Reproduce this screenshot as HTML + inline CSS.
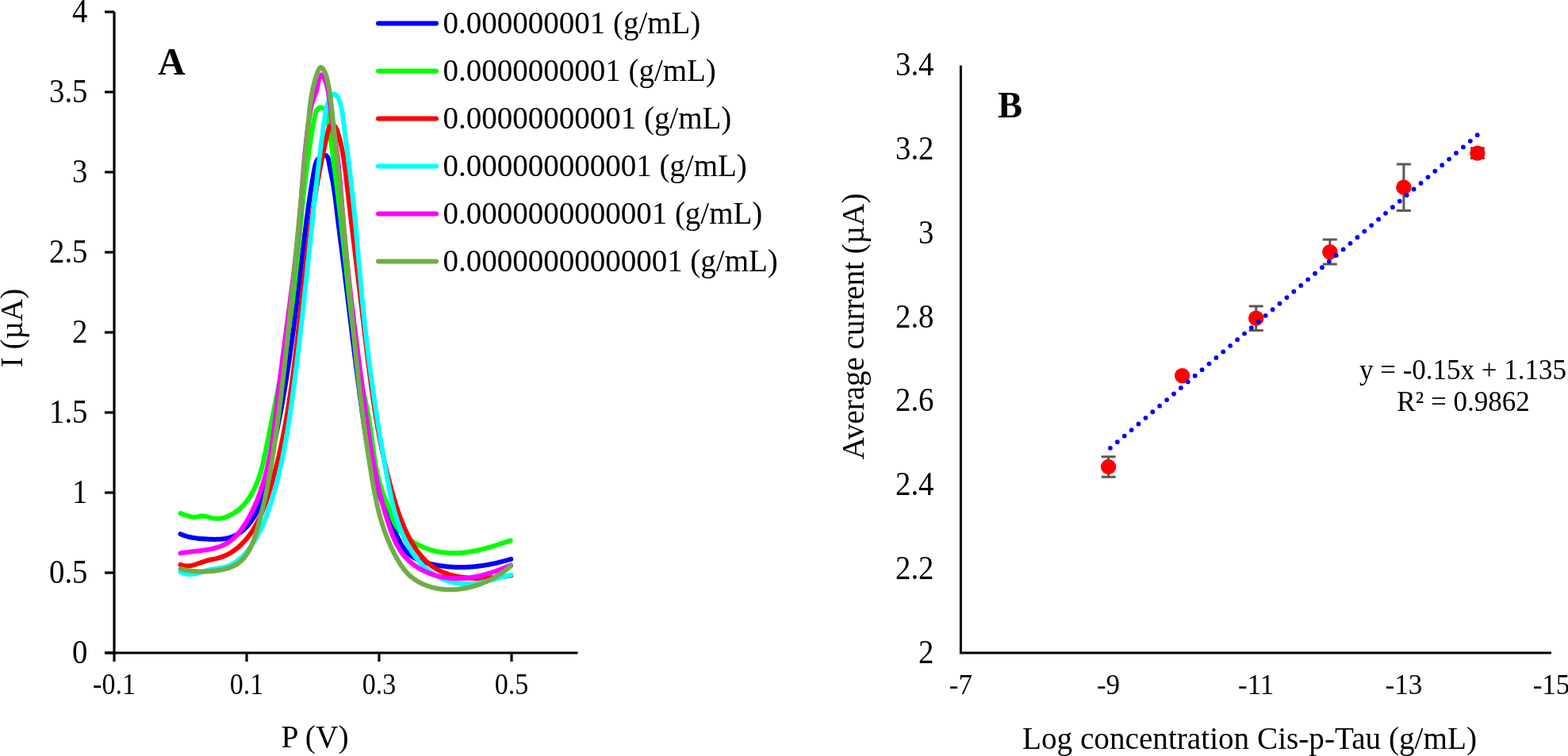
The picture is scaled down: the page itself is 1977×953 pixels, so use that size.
<!DOCTYPE html>
<html><head><meta charset="utf-8"><title>Chart</title>
<style>html,body{margin:0;padding:0;background:#fff;overflow:hidden;} svg{display:block;}</style>
</head><body>
<svg width="1977" height="953" viewBox="0 0 1977 953">
<rect width="1977" height="953" fill="#fff"/>
<g stroke="#000" stroke-width="3.2" fill="none">
<path d="M144,15 V834"/>
<path d="M132,823 H728.5"/>
<path d="M132,15.0 H144"/>
<path d="M132,116.0 H144"/>
<path d="M132,217.0 H144"/>
<path d="M132,318.0 H144"/>
<path d="M132,419.0 H144"/>
<path d="M132,520.0 H144"/>
<path d="M132,621.0 H144"/>
<path d="M132,722.0 H144"/>
<path d="M132,823.0 H144"/>
<path d="M311.0,823 V834"/>
<path d="M478.0,823 V834"/>
<path d="M645.0,823 V834"/>
</g>
<g font-family="'Liberation Serif', 'Times New Roman', Times, serif" fill="#000">
<text transform="translate(110.50,28.00) scale(1.0,1.07)" font-size="38.8" text-anchor="end">4</text>
<text transform="translate(110.50,129.00) scale(1.0,1.07)" font-size="38.8" text-anchor="end">3.5</text>
<text transform="translate(110.50,230.00) scale(1.0,1.07)" font-size="38.8" text-anchor="end">3</text>
<text transform="translate(110.50,331.00) scale(1.0,1.07)" font-size="38.8" text-anchor="end">2.5</text>
<text transform="translate(110.50,432.00) scale(1.0,1.07)" font-size="38.8" text-anchor="end">2</text>
<text transform="translate(110.50,533.00) scale(1.0,1.07)" font-size="38.8" text-anchor="end">1.5</text>
<text transform="translate(110.50,634.00) scale(1.0,1.07)" font-size="38.8" text-anchor="end">1</text>
<text transform="translate(110.50,735.00) scale(1.0,1.07)" font-size="38.8" text-anchor="end">0.5</text>
<text transform="translate(110.50,836.00) scale(1.0,1.07)" font-size="38.8" text-anchor="end">0</text>
<text transform="translate(144.00,875.00) scale(1.0,1.09)" font-size="34" text-anchor="middle">-0.1</text>
<text transform="translate(311.00,875.00) scale(1.0,1.09)" font-size="34" text-anchor="middle">0.1</text>
<text transform="translate(478.00,875.00) scale(1.0,1.09)" font-size="34" text-anchor="middle">0.3</text>
<text transform="translate(645.00,875.00) scale(1.0,1.09)" font-size="34" text-anchor="middle">0.5</text>
<text transform="translate(397.00,942.00)" font-size="39.5" text-anchor="middle">P (V)</text>
<text transform="translate(28.00,413.50) rotate(-90)" font-size="39" text-anchor="middle">I (µA)</text>
<text transform="translate(199.00,94.00)" font-size="48" font-weight="bold">A</text>
</g>
<path d="M227.5,673.1 L229.4,674.0 L231.3,674.7 L233.2,675.4 L235.2,676.0 L237.1,676.6 L239.1,677.0 L241.1,677.5 L243.1,677.8 L245.1,678.1 L247.1,678.4 L249.1,678.7 L251.1,678.9 L253.1,679.1 L255.2,679.2 L257.2,679.3 L259.3,679.5 L261.3,679.6 L263.4,679.7 L265.4,679.8 L267.5,679.8 L269.6,679.9 L271.6,679.9 L273.7,679.8 L275.7,679.8 L277.7,679.7 L279.7,679.5 L281.7,679.3 L283.7,679.0 L285.7,678.6 L287.6,678.2 L289.5,677.7 L291.4,677.1 L293.2,676.4 L295.1,675.7 L296.9,674.8 L298.6,673.9 L300.3,672.9 L302.0,671.8 L303.7,670.6 L305.3,669.3 L306.9,668.0 L308.4,666.6 L309.9,665.1 L311.3,663.6 L312.7,662.1 L314.1,660.5 L315.4,658.8 L316.7,657.1 L317.9,655.4 L319.1,653.6 L320.2,651.9 L321.3,650.0 L322.4,648.2 L323.3,646.4 L324.3,644.5 L325.1,642.6 L326.0,640.8 L326.7,638.9 L327.5,637.0 L328.2,635.0 L328.9,633.1 L329.5,631.2 L330.1,629.3 L330.6,627.3 L331.2,625.4 L331.7,623.4 L332.2,621.4 L332.6,619.5 L333.1,617.5 L333.5,615.5 L333.9,613.5 L334.4,611.5 L334.8,609.5 L335.2,607.6 L335.5,605.6 L335.9,603.6 L336.3,601.6 L336.7,599.6 L337.1,597.6 L337.6,595.6 L338.0,593.6 L338.4,591.6 L338.8,589.6 L339.2,587.6 L339.7,585.6 L340.1,583.6 L340.6,581.6 L341.0,579.6 L341.4,577.6 L341.9,575.6 L342.3,573.6 L342.8,571.6 L343.2,569.6 L343.7,567.6 L344.1,565.6 L344.6,563.6 L345.0,561.6 L345.5,559.6 L345.9,557.6 L346.4,555.6 L346.8,553.6 L347.2,551.6 L347.7,549.6 L348.1,547.6 L348.5,545.6 L349.0,543.6 L349.4,541.5 L349.8,539.5 L350.2,537.5 L350.6,535.5 L351.0,533.5 L351.4,531.5 L351.8,529.5 L352.2,527.5 L352.6,525.5 L353.0,523.4 L353.4,521.4 L353.8,519.4 L354.1,517.4 L354.5,515.4 L354.9,513.4 L355.2,511.4 L355.6,509.3 L356.0,507.3 L356.3,505.3 L356.7,503.3 L357.0,501.3 L357.4,499.2 L357.7,497.2 L358.1,495.2 L358.4,493.2 L358.8,491.2 L359.1,489.1 L359.5,487.1 L359.8,485.1 L360.1,483.1 L360.4,481.1 L360.8,479.0 L361.1,477.0 L361.4,475.0 L361.7,473.0 L362.0,470.9 L362.4,468.9 L362.7,466.9 L363.0,464.9 L363.3,462.8 L363.6,460.8 L363.9,458.8 L364.2,456.8 L364.5,454.7 L364.8,452.7 L365.1,450.7 L365.4,448.6 L365.7,446.6 L365.9,444.6 L366.2,442.6 L366.5,440.5 L366.8,438.5 L367.1,436.5 L367.4,434.4 L367.6,432.4 L367.9,430.4 L368.2,428.4 L368.4,426.3 L368.7,424.3 L369.0,422.3 L369.3,420.2 L369.5,418.2 L369.8,416.2 L370.1,414.1 L370.3,412.1 L370.6,410.1 L370.8,408.1 L371.1,406.0 L371.3,404.0 L371.6,402.0 L371.9,399.9 L372.1,397.9 L372.4,395.9 L372.6,393.8 L372.9,391.8 L373.1,389.8 L373.4,387.7 L373.6,385.7 L373.9,383.7 L374.1,381.6 L374.3,379.6 L374.6,377.6 L374.8,375.6 L375.1,373.5 L375.3,371.5 L375.6,369.5 L375.8,367.4 L376.0,365.4 L376.3,363.4 L376.5,361.3 L376.8,359.3 L377.0,357.3 L377.2,355.3 L377.5,353.2 L377.7,351.2 L378.0,349.2 L378.2,347.1 L378.4,345.1 L378.7,343.1 L378.9,341.0 L379.1,339.0 L379.4,337.0 L379.6,335.0 L379.9,332.9 L380.1,330.9 L380.3,328.9 L380.6,326.9 L380.8,324.8 L381.0,322.8 L381.3,320.8 L381.5,318.8 L381.7,316.7 L382.0,314.7 L382.2,312.7 L382.5,310.7 L382.7,308.6 L382.9,306.6 L383.2,304.6 L383.4,302.6 L383.7,300.5 L383.9,298.5 L384.2,296.5 L384.4,294.5 L384.7,292.4 L384.9,290.4 L385.2,288.4 L385.4,286.4 L385.7,284.3 L385.9,282.3 L386.2,280.3 L386.5,278.2 L386.7,276.2 L387.0,274.2 L387.3,272.2 L387.5,270.1 L387.8,268.1 L388.1,266.1 L388.4,264.0 L388.6,262.0 L388.9,260.0 L389.2,258.0 L389.5,255.9 L389.8,253.9 L390.1,251.9 L390.4,249.8 L390.7,247.8 L391.0,245.7 L391.3,243.7 L391.6,241.7 L392.0,239.6 L392.3,237.6 L392.6,235.6 L392.9,233.5 L393.3,231.5 L393.6,229.4 L393.9,227.4 L394.3,225.3 L394.6,223.3 L395.0,221.2 L395.4,219.2 L395.7,217.1 L396.1,215.1 L396.5,213.0 L396.9,211.0 L397.3,209.0 L397.8,207.0 L398.5,205.1 L399.2,203.3 L400.2,201.6 L401.4,200.0 L402.8,198.6 L404.5,197.3 L406.4,196.3 L408.5,195.7 L410.3,195.7 L411.7,196.4 L412.8,197.7 L413.6,199.5 L414.2,201.6 L414.7,203.9 L414.9,205.1 L415.1,206.3 L415.3,207.5 L415.7,209.8 L416.1,212.0 L416.5,214.0 L416.9,216.0 L417.4,218.0 L417.8,219.9 L418.2,221.8 L418.6,223.8 L419.0,225.7 L419.4,227.7 L419.7,229.7 L420.1,231.7 L420.4,233.6 L420.7,235.6 L421.0,237.6 L421.3,239.7 L421.6,241.7 L421.9,243.7 L422.2,245.7 L422.5,247.7 L422.8,249.8 L423.0,251.8 L423.3,253.9 L423.5,255.9 L423.8,257.9 L424.0,260.0 L424.3,262.0 L424.5,264.1 L424.8,266.1 L425.0,268.2 L425.3,270.2 L425.5,272.3 L425.7,274.3 L426.0,276.4 L426.2,278.4 L426.5,280.5 L426.7,282.5 L427.0,284.5 L427.2,286.6 L427.5,288.6 L427.8,290.6 L428.0,292.7 L428.3,294.7 L428.5,296.7 L428.8,298.8 L429.1,300.8 L429.3,302.8 L429.6,304.9 L429.8,306.9 L430.1,308.9 L430.4,310.9 L430.6,313.0 L430.9,315.0 L431.1,317.0 L431.4,319.1 L431.7,321.1 L431.9,323.1 L432.2,325.1 L432.4,327.2 L432.7,329.2 L433.0,331.2 L433.2,333.2 L433.5,335.3 L433.7,337.3 L434.0,339.3 L434.2,341.4 L434.5,343.4 L434.7,345.4 L435.0,347.4 L435.2,349.5 L435.5,351.5 L435.7,353.5 L436.0,355.6 L436.2,357.6 L436.5,359.6 L436.7,361.6 L437.0,363.7 L437.2,365.7 L437.5,367.7 L437.7,369.8 L438.0,371.8 L438.2,373.8 L438.5,375.9 L438.7,377.9 L439.0,379.9 L439.2,382.0 L439.5,384.0 L439.7,386.0 L439.9,388.0 L440.2,390.1 L440.4,392.1 L440.7,394.1 L440.9,396.2 L441.2,398.2 L441.4,400.2 L441.7,402.3 L441.9,404.3 L442.2,406.3 L442.4,408.4 L442.7,410.4 L442.9,412.4 L443.1,414.5 L443.4,416.5 L443.6,418.5 L443.9,420.5 L444.1,422.6 L444.4,424.6 L444.6,426.6 L444.9,428.7 L445.1,430.7 L445.4,432.7 L445.6,434.8 L445.9,436.8 L446.1,438.8 L446.4,440.9 L446.6,442.9 L446.9,444.9 L447.1,447.0 L447.4,449.0 L447.6,451.0 L447.9,453.1 L448.2,455.1 L448.4,457.1 L448.7,459.1 L448.9,461.2 L449.2,463.2 L449.4,465.2 L449.7,467.3 L450.0,469.3 L450.2,471.3 L450.5,473.4 L450.7,475.4 L451.0,477.4 L451.3,479.5 L451.5,481.5 L451.8,483.5 L452.1,485.6 L452.3,487.6 L452.6,489.6 L452.9,491.6 L453.1,493.7 L453.4,495.7 L453.7,497.7 L453.9,499.8 L454.2,501.8 L454.5,503.8 L454.8,505.9 L455.0,507.9 L455.3,509.9 L455.6,511.9 L455.9,514.0 L456.1,516.0 L456.4,518.0 L456.7,520.1 L457.0,522.1 L457.3,524.1 L457.6,526.1 L457.9,528.2 L458.2,530.2 L458.4,532.2 L458.7,534.2 L459.0,536.3 L459.3,538.3 L459.7,540.3 L460.0,542.3 L460.3,544.4 L460.6,546.4 L460.9,548.4 L461.2,550.4 L461.6,552.4 L461.9,554.5 L462.3,556.5 L462.6,558.5 L463.0,560.5 L463.3,562.5 L463.7,564.5 L464.0,566.5 L464.4,568.6 L464.8,570.6 L465.2,572.6 L465.6,574.6 L466.0,576.6 L466.4,578.6 L466.8,580.6 L467.3,582.6 L467.7,584.5 L468.2,586.5 L468.6,588.5 L469.1,590.5 L469.6,592.5 L470.0,594.5 L470.5,596.4 L471.0,598.4 L471.6,600.4 L472.1,602.4 L472.6,604.3 L473.2,606.3 L473.7,608.3 L474.3,610.2 L474.9,612.2 L475.5,614.1 L476.1,616.1 L476.7,618.0 L477.3,620.0 L478.0,621.9 L478.6,623.8 L479.3,625.8 L480.0,627.7 L480.7,629.6 L481.4,631.6 L482.1,633.5 L482.9,635.4 L483.6,637.3 L484.4,639.2 L485.1,641.1 L485.9,643.0 L486.7,644.9 L487.5,646.8 L488.3,648.7 L489.1,650.6 L489.9,652.5 L490.8,654.4 L491.6,656.3 L492.4,658.1 L493.3,660.0 L494.1,661.9 L495.0,663.8 L495.9,665.6 L496.7,667.5 L497.6,669.4 L498.5,671.2 L499.4,673.1 L500.2,675.0 L501.1,676.8 L502.0,678.7 L502.9,680.5 L503.9,682.3 L504.8,684.1 L505.8,685.9 L506.8,687.6 L507.9,689.3 L509.0,690.9 L510.2,692.5 L511.4,694.0 L512.7,695.5 L514.0,696.9 L515.4,698.3 L516.9,699.5 L518.5,700.7 L520.1,701.8 L521.8,702.9 L523.6,703.9 L525.4,704.8 L527.3,705.7 L529.2,706.5 L531.1,707.3 L533.1,708.0 L535.1,708.6 L537.1,709.3 L539.2,709.8 L541.3,710.4 L543.3,710.9 L545.4,711.3 L547.5,711.8 L549.6,712.2 L551.7,712.5 L553.7,712.9 L555.8,713.2 L557.9,713.5 L559.9,713.7 L562.0,714.0 L564.0,714.2 L566.1,714.4 L568.1,714.6 L570.1,714.7 L572.1,714.8 L574.2,714.9 L576.2,715.0 L578.2,715.0 L580.2,715.0 L582.2,715.0 L584.2,715.0 L586.2,715.0 L588.2,714.9 L590.2,714.8 L592.2,714.7 L594.2,714.5 L596.2,714.4 L598.2,714.2 L600.2,714.0 L602.2,713.8 L604.1,713.5 L606.1,713.3 L608.1,713.0 L610.1,712.7 L612.1,712.4 L614.1,712.0 L616.1,711.7 L618.1,711.3 L620.1,710.9 L622.1,710.5 L624.1,710.1 L626.1,709.6 L628.1,709.2 L630.1,708.7 L632.1,708.2 L634.1,707.7 L636.2,707.1 L638.2,706.6 L640.2,706.0 L642.3,705.4 L644.3,704.8 L644.3,704.8" fill="none" stroke="#0000FF" stroke-width="6" stroke-linecap="round" stroke-linejoin="round"/>
<path d="M227.5,647.1 L229.5,647.8 L231.6,648.6 L233.7,649.3 L235.8,650.0 L237.9,650.7 L240.0,651.2 L242.0,651.7 L244.1,651.9 L246.1,651.9 L248.1,651.7 L250.0,651.3 L252.0,650.9 L253.9,650.6 L255.9,650.6 L257.8,650.8 L259.8,651.1 L261.9,651.6 L263.9,652.1 L266.0,652.6 L268.1,653.1 L270.2,653.5 L272.3,653.7 L274.5,653.8 L276.7,653.7 L278.9,653.4 L281.1,652.9 L283.3,652.3 L285.5,651.5 L287.6,650.7 L289.6,649.7 L291.6,648.7 L293.6,647.6 L295.5,646.5 L297.3,645.3 L299.0,644.0 L300.7,642.7 L302.4,641.3 L303.9,639.8 L305.5,638.4 L306.9,636.8 L308.4,635.2 L309.7,633.6 L311.1,631.9 L312.3,630.2 L313.6,628.5 L314.8,626.7 L315.9,624.9 L317.0,623.0 L318.0,621.1 L319.1,619.2 L320.0,617.3 L321.0,615.4 L321.9,613.4 L322.7,611.4 L323.6,609.5 L324.4,607.4 L325.1,605.4 L325.9,603.4 L326.6,601.4 L327.2,599.3 L327.9,597.3 L328.5,595.2 L329.1,593.1 L329.7,591.0 L330.3,588.9 L330.8,586.8 L331.3,584.7 L331.8,582.6 L332.3,580.5 L332.8,578.4 L333.3,576.2 L333.7,574.1 L334.2,572.0 L334.6,569.8 L335.1,567.7 L335.5,565.5 L335.9,563.4 L336.4,561.3 L336.8,559.1 L337.2,557.0 L337.6,554.8 L338.1,552.7 L338.5,550.6 L338.9,548.4 L339.4,546.3 L339.8,544.2 L340.2,542.0 L340.6,539.9 L341.1,537.8 L341.5,535.6 L341.9,533.5 L342.4,531.4 L342.8,529.3 L343.2,527.1 L343.7,525.0 L344.1,522.9 L344.5,520.8 L344.9,518.6 L345.4,516.5 L345.8,514.4 L346.2,512.3 L346.6,510.2 L347.1,508.0 L347.5,505.9 L347.9,503.8 L348.3,501.7 L348.7,499.5 L349.2,497.4 L349.6,495.3 L350.0,493.2 L350.4,491.1 L350.8,489.0 L351.2,486.8 L351.6,484.7 L352.1,482.6 L352.5,480.5 L352.9,478.4 L353.3,476.2 L353.7,474.1 L354.1,472.0 L354.5,469.9 L354.9,467.8 L355.3,465.6 L355.7,463.5 L356.1,461.4 L356.4,459.3 L356.8,457.2 L357.2,455.0 L357.6,452.9 L358.0,450.8 L358.3,448.7 L358.7,446.5 L359.1,444.4 L359.5,442.3 L359.8,440.2 L360.2,438.0 L360.5,435.9 L360.9,433.8 L361.3,431.6 L361.6,429.5 L362.0,427.4 L362.3,425.3 L362.6,423.1 L363.0,421.0 L363.3,418.8 L363.7,416.7 L364.0,414.6 L364.3,412.4 L364.6,410.3 L364.9,408.2 L365.3,406.0 L365.6,403.9 L365.9,401.7 L366.2,399.6 L366.5,397.4 L366.8,395.3 L367.1,393.1 L367.4,391.0 L367.6,388.8 L367.9,386.7 L368.2,384.5 L368.5,382.4 L368.7,380.2 L369.0,378.1 L369.3,375.9 L369.5,373.7 L369.8,371.6 L370.1,369.4 L370.3,367.3 L370.6,365.1 L370.8,362.9 L371.1,360.8 L371.3,358.6 L371.5,356.4 L371.8,354.3 L372.0,352.1 L372.2,349.9 L372.5,347.8 L372.7,345.6 L372.9,343.4 L373.2,341.3 L373.4,339.1 L373.6,336.9 L373.8,334.8 L374.1,332.6 L374.3,330.4 L374.5,328.3 L374.7,326.1 L374.9,323.9 L375.1,321.7 L375.4,319.6 L375.6,317.4 L375.8,315.2 L376.0,313.1 L376.2,310.9 L376.4,308.7 L376.6,306.6 L376.8,304.4 L377.0,302.2 L377.3,300.1 L377.5,297.9 L377.7,295.7 L377.9,293.6 L378.1,291.4 L378.3,289.2 L378.5,287.1 L378.7,284.9 L378.9,282.7 L379.1,280.6 L379.4,278.4 L379.6,276.2 L379.8,274.1 L380.0,271.9 L380.2,269.8 L380.4,267.6 L380.6,265.5 L380.9,263.3 L381.1,261.2 L381.3,259.0 L381.5,256.8 L381.7,254.7 L382.0,252.5 L382.2,250.4 L382.4,248.3 L382.6,246.1 L382.9,244.0 L383.1,241.8 L383.3,239.7 L383.6,237.5 L383.8,235.4 L384.1,233.3 L384.3,231.1 L384.6,229.0 L384.8,226.9 L385.1,224.7 L385.3,222.6 L385.6,220.5 L385.8,218.4 L386.1,216.2 L386.4,214.1 L386.6,212.0 L386.9,209.9 L387.2,207.8 L387.5,205.7 L387.7,203.5 L388.0,201.4 L388.3,199.3 L388.6,197.2 L388.9,195.1 L389.2,193.0 L389.5,190.9 L389.8,188.8 L390.1,186.7 L390.5,184.7 L390.8,182.6 L391.1,180.5 L391.4,178.4 L391.8,176.3 L392.1,174.2 L392.5,172.0 L392.8,169.9 L393.2,167.7 L393.5,165.6 L393.9,163.3 L394.3,161.1 L394.7,158.8 L395.1,156.5 L395.5,154.2 L395.9,151.8 L396.1,150.6 L396.3,149.4 L396.5,148.2 L396.8,147.0 L397.0,145.8 L397.3,144.6 L397.6,143.4 L398.3,141.2 L399.3,139.2 L400.5,137.5 L402.0,136.2 L403.8,135.5 L405.7,135.7 L407.6,136.6 L409.3,138.0 L410.7,139.7 L411.6,141.6 L412.3,143.6 L412.8,145.7 L413.2,147.9 L413.5,150.2 L413.8,152.4 L414.1,154.6 L414.4,156.8 L414.7,159.0 L415.0,161.2 L415.3,163.4 L415.6,165.6 L415.8,167.8 L416.1,170.0 L416.4,172.2 L416.7,174.4 L417.0,176.5 L417.3,178.7 L417.6,180.9 L417.9,183.1 L418.2,185.3 L418.5,187.4 L418.8,189.6 L419.0,191.8 L419.3,193.9 L419.6,196.1 L419.9,198.3 L420.2,200.4 L420.5,202.6 L420.7,204.7 L421.0,206.9 L421.3,209.0 L421.6,211.2 L421.9,213.4 L422.1,215.5 L422.4,217.6 L422.7,219.8 L423.0,221.9 L423.2,224.1 L423.5,226.2 L423.8,228.4 L424.0,230.5 L424.3,232.7 L424.6,234.8 L424.8,236.9 L425.1,239.1 L425.4,241.2 L425.6,243.4 L425.9,245.5 L426.2,247.6 L426.4,249.8 L426.7,251.9 L426.9,254.0 L427.2,256.2 L427.5,258.3 L427.7,260.4 L428.0,262.6 L428.2,264.7 L428.5,266.8 L428.7,269.0 L429.0,271.1 L429.2,273.3 L429.5,275.4 L429.7,277.5 L430.0,279.7 L430.2,281.8 L430.5,283.9 L430.7,286.1 L431.0,288.2 L431.2,290.4 L431.4,292.5 L431.7,294.6 L431.9,296.8 L432.2,298.9 L432.4,301.1 L432.6,303.2 L432.9,305.4 L433.1,307.5 L433.3,309.7 L433.6,311.8 L433.8,314.0 L434.0,316.1 L434.3,318.3 L434.5,320.4 L434.7,322.6 L435.0,324.7 L435.2,326.9 L435.4,329.1 L435.6,331.2 L435.9,333.4 L436.1,335.5 L436.3,337.7 L436.6,339.9 L436.8,342.0 L437.0,344.2 L437.3,346.3 L437.5,348.5 L437.7,350.7 L438.0,352.8 L438.2,355.0 L438.4,357.2 L438.7,359.3 L438.9,361.5 L439.1,363.7 L439.4,365.8 L439.6,368.0 L439.9,370.1 L440.1,372.3 L440.3,374.5 L440.6,376.6 L440.8,378.8 L441.1,381.0 L441.3,383.1 L441.6,385.3 L441.8,387.5 L442.1,389.6 L442.3,391.8 L442.6,393.9 L442.9,396.1 L443.1,398.3 L443.4,400.4 L443.7,402.6 L443.9,404.8 L444.2,406.9 L444.5,409.1 L444.7,411.2 L445.0,413.4 L445.3,415.5 L445.6,417.7 L445.9,419.9 L446.2,422.0 L446.5,424.2 L446.8,426.3 L447.1,428.5 L447.4,430.6 L447.7,432.8 L448.0,434.9 L448.3,437.1 L448.6,439.2 L448.9,441.4 L449.3,443.5 L449.6,445.7 L449.9,447.8 L450.3,449.9 L450.6,452.1 L450.9,454.2 L451.3,456.4 L451.6,458.5 L452.0,460.6 L452.4,462.8 L452.7,464.9 L453.1,467.0 L453.5,469.1 L453.8,471.3 L454.2,473.4 L454.6,475.5 L455.0,477.6 L455.4,479.8 L455.8,481.9 L456.2,484.0 L456.6,486.1 L457.0,488.2 L457.5,490.3 L457.9,492.4 L458.3,494.5 L458.8,496.7 L459.2,498.8 L459.7,500.9 L460.1,503.0 L460.6,505.1 L461.0,507.2 L461.5,509.2 L461.9,511.3 L462.4,513.5 L462.8,515.6 L463.3,517.7 L463.7,519.8 L464.1,521.9 L464.5,524.0 L464.8,526.1 L465.2,528.3 L465.5,530.4 L465.9,532.6 L466.2,534.7 L466.5,536.8 L466.9,539.0 L467.2,541.1 L467.5,543.3 L467.8,545.5 L468.1,547.6 L468.3,549.8 L468.6,551.9 L468.9,554.1 L469.2,556.3 L469.5,558.4 L469.8,560.6 L470.1,562.7 L470.4,564.9 L470.7,567.1 L471.0,569.2 L471.3,571.4 L471.6,573.5 L471.9,575.7 L472.2,577.8 L472.6,580.0 L472.9,582.1 L473.3,584.3 L473.7,586.4 L474.1,588.5 L474.5,590.7 L474.9,592.8 L475.3,594.9 L475.8,597.0 L476.2,599.1 L476.7,601.2 L477.2,603.3 L477.8,605.4 L478.3,607.5 L478.9,609.6 L479.5,611.6 L480.1,613.7 L480.7,615.7 L481.4,617.8 L482.1,619.8 L482.8,621.9 L483.6,623.9 L484.3,625.9 L485.1,627.9 L486.0,629.9 L486.8,631.8 L487.7,633.8 L488.6,635.8 L489.5,637.8 L490.3,639.8 L491.1,641.8 L491.8,643.9 L492.5,645.9 L493.2,648.0 L493.8,650.1 L494.5,652.1 L495.2,654.2 L496.0,656.2 L496.8,658.2 L497.7,660.1 L498.7,661.9 L499.8,663.8 L501.0,665.5 L502.3,667.2 L503.7,668.9 L505.1,670.5 L506.6,672.0 L508.2,673.6 L509.8,675.0 L511.5,676.4 L513.2,677.8 L515.0,679.1 L516.8,680.4 L518.6,681.6 L520.5,682.8 L522.4,684.0 L524.3,685.1 L526.2,686.2 L528.2,687.2 L530.2,688.2 L532.2,689.1 L534.2,690.0 L536.2,690.8 L538.3,691.6 L540.3,692.3 L542.4,693.0 L544.5,693.6 L546.6,694.2 L548.7,694.7 L550.8,695.2 L552.9,695.6 L555.0,696.0 L557.1,696.3 L559.2,696.6 L561.4,696.8 L563.5,697.0 L565.6,697.1 L567.8,697.2 L569.9,697.3 L572.1,697.3 L574.2,697.2 L576.4,697.2 L578.5,697.0 L580.7,696.9 L582.8,696.7 L585.0,696.5 L587.1,696.2 L589.3,696.0 L591.4,695.6 L593.6,695.3 L595.7,694.9 L597.9,694.5 L600.0,694.1 L602.1,693.6 L604.3,693.2 L606.4,692.7 L608.5,692.2 L610.7,691.6 L612.8,691.1 L614.9,690.5 L617.0,689.9 L619.1,689.3 L621.2,688.7 L623.3,688.0 L625.4,687.4 L627.4,686.7 L629.5,686.1 L631.5,685.4 L633.6,684.7 L635.6,684.0 L637.7,683.4 L639.7,682.7 L641.7,682.0 L643.7,681.3 L643.7,681.3" fill="none" stroke="#00FF00" stroke-width="6" stroke-linecap="round" stroke-linejoin="round"/>
<path d="M227.5,711.8 L228.7,712.2 L229.8,712.6 L232.1,713.1 L234.4,713.4 L236.5,713.4 L238.7,713.3 L240.8,713.0 L242.9,712.6 L244.9,712.0 L247.0,711.4 L249.0,710.7 L251.1,710.0 L253.1,709.2 L255.2,708.5 L257.3,707.8 L259.4,707.1 L261.5,706.5 L263.7,706.0 L265.8,705.5 L268.0,705.0 L270.2,704.6 L272.4,704.1 L274.5,703.6 L276.6,703.0 L278.7,702.4 L280.8,701.6 L282.8,700.8 L284.8,699.9 L286.8,699.0 L288.7,698.0 L290.6,696.9 L292.5,695.8 L294.3,694.6 L296.0,693.3 L297.8,692.0 L299.5,690.6 L301.2,689.2 L302.8,687.7 L304.4,686.2 L305.9,684.7 L307.4,683.1 L308.9,681.5 L310.4,679.8 L311.8,678.1 L313.1,676.4 L314.4,674.7 L315.7,672.9 L317.0,671.1 L318.2,669.3 L319.3,667.5 L320.5,665.7 L321.6,663.8 L322.7,661.9 L323.7,660.0 L324.7,658.1 L325.7,656.1 L326.7,654.2 L327.6,652.2 L328.5,650.2 L329.4,648.2 L330.2,646.2 L331.1,644.2 L331.9,642.1 L332.7,640.1 L333.5,638.0 L334.2,636.0 L335.0,633.9 L335.7,631.8 L336.4,629.7 L337.1,627.6 L337.8,625.5 L338.4,623.4 L339.1,621.3 L339.7,619.2 L340.4,617.1 L341.0,615.0 L341.6,612.9 L342.3,610.8 L342.9,608.7 L343.5,606.5 L344.1,604.4 L344.6,602.3 L345.2,600.2 L345.8,598.1 L346.3,596.0 L346.9,593.8 L347.4,591.7 L348.0,589.6 L348.5,587.5 L349.0,585.3 L349.6,583.2 L350.1,581.1 L350.6,579.0 L351.1,576.8 L351.6,574.7 L352.1,572.6 L352.5,570.4 L353.0,568.3 L353.5,566.2 L353.9,564.0 L354.4,561.9 L354.9,559.8 L355.3,557.6 L355.7,555.5 L356.2,553.4 L356.6,551.2 L357.0,549.1 L357.5,546.9 L357.9,544.8 L358.3,542.7 L358.7,540.5 L359.1,538.4 L359.5,536.2 L359.9,534.1 L360.3,531.9 L360.6,529.8 L361.0,527.6 L361.4,525.5 L361.8,523.3 L362.1,521.2 L362.5,519.0 L362.8,516.8 L363.2,514.7 L363.5,512.5 L363.9,510.4 L364.2,508.2 L364.6,506.1 L364.9,503.9 L365.2,501.7 L365.6,499.6 L365.9,497.4 L366.2,495.3 L366.5,493.1 L366.8,490.9 L367.2,488.8 L367.5,486.6 L367.8,484.4 L368.1,482.3 L368.4,480.1 L368.7,477.9 L369.0,475.8 L369.3,473.6 L369.6,471.4 L369.8,469.2 L370.1,467.1 L370.4,464.9 L370.7,462.7 L371.0,460.6 L371.2,458.4 L371.5,456.2 L371.8,454.0 L372.0,451.9 L372.3,449.7 L372.6,447.5 L372.8,445.3 L373.1,443.2 L373.4,441.0 L373.6,438.8 L373.9,436.6 L374.1,434.5 L374.4,432.3 L374.6,430.1 L374.9,427.9 L375.1,425.8 L375.4,423.6 L375.6,421.4 L375.9,419.2 L376.1,417.0 L376.4,414.9 L376.6,412.7 L376.8,410.5 L377.1,408.3 L377.3,406.2 L377.6,404.0 L377.8,401.8 L378.0,399.6 L378.3,397.4 L378.5,395.3 L378.8,393.1 L379.0,390.9 L379.2,388.7 L379.5,386.5 L379.7,384.4 L379.9,382.2 L380.2,380.0 L380.4,377.8 L380.6,375.7 L380.9,373.5 L381.1,371.3 L381.4,369.1 L381.6,366.9 L381.8,364.8 L382.1,362.6 L382.3,360.4 L382.6,358.2 L382.8,356.1 L383.0,353.9 L383.3,351.7 L383.5,349.5 L383.8,347.4 L384.0,345.2 L384.3,343.0 L384.5,340.8 L384.8,338.7 L385.0,336.5 L385.3,334.3 L385.5,332.1 L385.8,330.0 L386.0,327.8 L386.3,325.6 L386.6,323.5 L386.8,321.3 L387.1,319.1 L387.3,316.9 L387.6,314.8 L387.9,312.6 L388.2,310.4 L388.4,308.3 L388.7,306.1 L389.0,303.9 L389.3,301.8 L389.6,299.6 L389.8,297.4 L390.1,295.3 L390.4,293.1 L390.7,291.0 L391.0,288.8 L391.3,286.6 L391.6,284.5 L391.9,282.3 L392.2,280.2 L392.5,278.0 L392.8,275.8 L393.2,273.7 L393.5,271.5 L393.8,269.4 L394.1,267.2 L394.5,265.0 L394.8,262.9 L395.1,260.7 L395.5,258.6 L395.8,256.4 L396.1,254.3 L396.5,252.1 L396.8,249.9 L397.2,247.8 L397.6,245.6 L397.9,243.5 L398.3,241.3 L398.6,239.1 L399.0,237.0 L399.4,234.8 L399.8,232.7 L400.2,230.5 L400.5,228.3 L400.9,226.2 L401.3,224.0 L401.7,221.9 L402.1,219.7 L402.5,217.5 L403.0,215.4 L403.4,213.2 L403.8,211.0 L404.2,208.9 L404.6,206.7 L405.1,204.5 L405.5,202.4 L405.9,200.2 L406.4,198.0 L406.8,195.9 L407.3,193.8 L407.7,191.6 L408.1,189.5 L408.6,187.4 L409.0,185.4 L409.5,183.3 L409.9,181.2 L410.4,179.1 L410.8,177.0 L411.3,174.9 L411.8,172.7 L412.3,170.4 L412.9,168.1 L413.2,166.9 L413.5,165.7 L413.8,164.4 L414.2,163.2 L414.5,162.0 L415.0,160.9 L416.0,159.0 L417.3,157.8 L419.0,157.6 L420.9,158.4 L422.5,159.7 L423.7,161.4 L424.6,163.4 L425.3,165.6 L426.0,167.7 L426.7,169.9 L427.4,172.1 L428.0,174.2 L428.5,176.4 L429.1,178.6 L429.6,180.7 L430.1,182.9 L430.6,185.1 L431.1,187.2 L431.5,189.4 L431.9,191.6 L432.3,193.8 L432.7,195.9 L433.1,198.1 L433.4,200.3 L433.7,202.5 L434.1,204.6 L434.4,206.8 L434.7,209.0 L435.0,211.2 L435.2,213.3 L435.5,215.5 L435.8,217.7 L436.0,219.9 L436.3,222.0 L436.5,224.2 L436.8,226.4 L437.0,228.5 L437.3,230.7 L437.5,232.9 L437.8,235.1 L438.0,237.2 L438.3,239.4 L438.5,241.6 L438.8,243.7 L439.0,245.9 L439.3,248.1 L439.5,250.2 L439.8,252.4 L440.0,254.6 L440.3,256.7 L440.5,258.9 L440.8,261.1 L441.0,263.2 L441.3,265.4 L441.6,267.6 L441.8,269.7 L442.1,271.9 L442.3,274.1 L442.6,276.2 L442.8,278.4 L443.1,280.6 L443.4,282.7 L443.6,284.9 L443.9,287.1 L444.1,289.2 L444.4,291.4 L444.7,293.5 L444.9,295.7 L445.2,297.9 L445.4,300.0 L445.7,302.2 L446.0,304.4 L446.2,306.5 L446.5,308.7 L446.7,310.9 L447.0,313.0 L447.3,315.2 L447.5,317.3 L447.8,319.5 L448.0,321.7 L448.3,323.8 L448.6,326.0 L448.8,328.2 L449.1,330.3 L449.4,332.5 L449.6,334.7 L449.9,336.8 L450.1,339.0 L450.4,341.2 L450.7,343.3 L450.9,345.5 L451.2,347.7 L451.5,349.8 L451.7,352.0 L452.0,354.2 L452.2,356.3 L452.5,358.5 L452.8,360.7 L453.0,362.8 L453.3,365.0 L453.6,367.2 L453.8,369.3 L454.1,371.5 L454.3,373.7 L454.6,375.9 L454.9,378.0 L455.1,380.2 L455.4,382.4 L455.6,384.6 L455.9,386.7 L456.2,388.9 L456.4,391.1 L456.7,393.3 L456.9,395.4 L457.2,397.6 L457.4,399.8 L457.7,402.0 L458.0,404.2 L458.2,406.3 L458.5,408.5 L458.7,410.7 L459.0,412.9 L459.2,415.1 L459.5,417.3 L459.8,419.4 L460.0,421.6 L460.3,423.8 L460.5,426.0 L460.8,428.2 L461.1,430.4 L461.3,432.6 L461.6,434.7 L461.8,436.9 L462.1,439.1 L462.4,441.3 L462.6,443.5 L462.9,445.7 L463.2,447.9 L463.4,450.1 L463.7,452.2 L464.0,454.4 L464.2,456.6 L464.5,458.8 L464.8,461.0 L465.1,463.2 L465.4,465.4 L465.6,467.6 L465.9,469.7 L466.2,471.9 L466.5,474.1 L466.8,476.3 L467.1,478.5 L467.4,480.7 L467.7,482.8 L467.9,485.0 L468.2,487.2 L468.5,489.4 L468.9,491.6 L469.2,493.8 L469.5,495.9 L469.8,498.1 L470.1,500.3 L470.4,502.5 L470.7,504.6 L471.1,506.8 L471.4,509.0 L471.7,511.2 L472.1,513.3 L472.4,515.5 L472.7,517.7 L473.1,519.8 L473.4,522.0 L473.8,524.2 L474.1,526.3 L474.5,528.5 L474.8,530.7 L475.2,532.8 L475.6,535.0 L475.9,537.2 L476.3,539.3 L476.7,541.5 L477.1,543.6 L477.5,545.8 L477.9,547.9 L478.3,550.1 L478.7,552.2 L479.1,554.4 L479.5,556.5 L479.9,558.7 L480.3,560.8 L480.8,562.9 L481.2,565.1 L481.6,567.2 L482.1,569.3 L482.5,571.5 L483.0,573.6 L483.4,575.7 L483.9,577.9 L484.3,580.0 L484.8,582.1 L485.3,584.2 L485.8,586.3 L486.3,588.5 L486.8,590.6 L487.3,592.7 L487.8,594.8 L488.3,596.9 L488.8,599.0 L489.3,601.1 L489.8,603.2 L490.4,605.3 L490.9,607.4 L491.5,609.5 L492.0,611.6 L492.6,613.7 L493.1,615.8 L493.7,617.8 L494.3,619.9 L494.9,622.0 L495.5,624.1 L496.1,626.1 L496.7,628.2 L497.3,630.3 L497.9,632.3 L498.6,634.4 L499.2,636.4 L499.9,638.5 L500.5,640.6 L501.2,642.6 L501.9,644.7 L502.6,646.7 L503.3,648.8 L504.0,650.8 L504.8,652.8 L505.6,654.9 L506.3,656.9 L507.2,659.0 L508.0,661.0 L508.8,663.1 L509.7,665.1 L510.6,667.2 L511.5,669.2 L512.5,671.2 L513.5,673.3 L514.5,675.3 L515.5,677.3 L516.6,679.3 L517.6,681.2 L518.8,683.2 L519.9,685.1 L521.1,687.0 L522.3,688.9 L523.5,690.8 L524.7,692.6 L526.0,694.4 L527.3,696.2 L528.7,697.9 L530.0,699.6 L531.5,701.3 L532.9,702.9 L534.4,704.5 L535.9,706.1 L537.4,707.6 L539.0,709.0 L540.6,710.4 L542.2,711.8 L543.9,713.0 L545.6,714.3 L547.4,715.5 L549.2,716.6 L551.0,717.7 L552.8,718.7 L554.7,719.6 L556.7,720.5 L558.6,721.4 L560.6,722.2 L562.6,722.9 L564.6,723.6 L566.7,724.3 L568.8,724.9 L570.9,725.4 L573.0,725.9 L575.1,726.4 L577.3,726.8 L579.5,727.2 L581.7,727.5 L583.9,727.8 L586.1,728.1 L588.3,728.3 L590.5,728.5 L592.8,728.7 L595.0,728.8 L597.3,728.9 L599.5,729.0 L601.8,729.0 L604.1,729.0 L606.3,729.0 L608.6,728.9 L610.8,728.8 L613.1,728.8 L615.3,728.6 L617.6,728.5 L619.8,728.3 L622.0,728.2 L624.2,728.0 L626.4,727.8 L628.6,727.5 L630.7,727.3 L632.9,727.0 L635.0,726.8 L637.1,726.5 L639.2,726.2 L641.2,725.9 L643.3,725.6 L644.3,725.5" fill="none" stroke="#FF0000" stroke-width="6" stroke-linecap="round" stroke-linejoin="round"/>
<path d="M227.5,721.0 L228.8,721.6 L230.0,722.1 L231.3,722.5 L232.5,722.9 L233.7,723.2 L234.9,723.5 L237.2,723.8 L239.5,723.9 L241.8,723.8 L244.0,723.6 L246.2,723.2 L248.5,722.7 L250.7,722.2 L252.9,721.5 L255.1,720.9 L257.3,720.2 L259.5,719.5 L261.8,718.9 L264.2,718.3 L265.4,718.0 L266.6,717.8 L267.8,717.6 L269.0,717.4 L270.2,717.2 L271.4,717.0 L272.7,716.8 L273.9,716.7 L275.1,716.5 L276.3,716.3 L277.6,716.1 L278.8,715.9 L280.0,715.7 L281.2,715.5 L282.3,715.2 L284.7,714.6 L286.9,713.9 L289.1,713.0 L291.2,712.1 L293.2,711.0 L295.2,709.8 L297.2,708.6 L299.0,707.3 L300.9,705.9 L302.6,704.4 L304.4,702.8 L306.0,701.2 L307.7,699.5 L309.2,697.8 L310.8,696.0 L312.3,694.1 L313.7,692.3 L315.1,690.4 L316.5,688.4 L317.8,686.5 L319.1,684.5 L320.4,682.5 L321.6,680.5 L322.8,678.5 L324.0,676.4 L325.1,674.4 L326.2,672.3 L327.3,670.2 L328.4,668.1 L329.4,665.9 L330.4,663.8 L331.4,661.7 L332.3,659.5 L333.3,657.3 L334.2,655.1 L335.0,652.9 L335.9,650.7 L336.7,648.5 L337.5,646.3 L338.3,644.0 L339.1,641.8 L339.9,639.5 L340.6,637.3 L341.4,635.0 L342.1,632.8 L342.8,630.5 L343.5,628.2 L344.2,625.9 L344.8,623.7 L345.5,621.4 L346.1,619.1 L346.8,616.8 L347.4,614.5 L348.0,612.3 L348.6,610.0 L349.2,607.7 L349.8,605.4 L350.3,603.1 L350.9,600.8 L351.5,598.5 L352.0,596.2 L352.5,593.9 L353.1,591.6 L353.6,589.4 L354.1,587.1 L354.6,584.8 L355.1,582.5 L355.6,580.1 L356.1,577.8 L356.5,575.5 L357.0,573.2 L357.5,570.9 L357.9,568.6 L358.3,566.3 L358.8,564.0 L359.2,561.7 L359.6,559.4 L360.0,557.1 L360.5,554.8 L360.9,552.4 L361.3,550.1 L361.6,547.8 L362.0,545.5 L362.4,543.2 L362.8,540.8 L363.2,538.5 L363.5,536.2 L363.9,533.9 L364.3,531.5 L364.6,529.2 L365.0,526.9 L365.3,524.6 L365.7,522.2 L366.0,519.9 L366.3,517.6 L366.7,515.3 L367.0,512.9 L367.3,510.6 L367.7,508.3 L368.0,505.9 L368.3,503.6 L368.6,501.3 L368.9,498.9 L369.2,496.6 L369.6,494.2 L369.9,491.9 L370.2,489.6 L370.5,487.2 L370.8,484.9 L371.1,482.5 L371.4,480.2 L371.7,477.9 L372.0,475.5 L372.3,473.2 L372.6,470.8 L372.9,468.5 L373.2,466.1 L373.5,463.8 L373.8,461.5 L374.1,459.1 L374.3,456.8 L374.6,454.4 L374.9,452.1 L375.2,449.7 L375.5,447.4 L375.8,445.0 L376.0,442.7 L376.3,440.3 L376.6,438.0 L376.9,435.6 L377.2,433.3 L377.4,430.9 L377.7,428.6 L378.0,426.2 L378.2,423.9 L378.5,421.5 L378.8,419.2 L379.1,416.8 L379.3,414.5 L379.6,412.1 L379.8,409.8 L380.1,407.4 L380.4,405.1 L380.6,402.7 L380.9,400.4 L381.2,398.0 L381.4,395.7 L381.7,393.3 L381.9,391.0 L382.2,388.6 L382.4,386.3 L382.7,383.9 L383.0,381.6 L383.2,379.2 L383.5,376.9 L383.7,374.5 L384.0,372.1 L384.2,369.8 L384.5,367.4 L384.7,365.1 L385.0,362.7 L385.2,360.4 L385.5,358.0 L385.7,355.7 L386.0,353.3 L386.2,351.0 L386.5,348.6 L386.7,346.3 L387.0,343.9 L387.2,341.6 L387.5,339.2 L387.7,336.9 L387.9,334.6 L388.2,332.2 L388.4,329.9 L388.7,327.5 L388.9,325.2 L389.2,322.8 L389.4,320.5 L389.7,318.1 L389.9,315.8 L390.2,313.4 L390.4,311.1 L390.6,308.8 L390.9,306.4 L391.1,304.1 L391.4,301.7 L391.6,299.4 L391.9,297.1 L392.1,294.7 L392.4,292.4 L392.6,290.0 L392.9,287.7 L393.1,285.4 L393.4,283.0 L393.6,280.7 L393.8,278.4 L394.1,276.0 L394.3,273.7 L394.6,271.4 L394.8,269.0 L395.1,266.7 L395.3,264.4 L395.6,262.0 L395.8,259.7 L396.1,257.4 L396.3,255.1 L396.6,252.7 L396.9,250.4 L397.1,248.1 L397.4,245.7 L397.6,243.4 L397.9,241.1 L398.1,238.8 L398.4,236.4 L398.7,234.1 L398.9,231.8 L399.2,229.4 L399.5,227.1 L399.7,224.8 L400.0,222.4 L400.3,220.1 L400.5,217.8 L400.8,215.4 L401.1,213.1 L401.4,210.7 L401.6,208.4 L401.9,206.0 L402.2,203.7 L402.5,201.3 L402.8,199.0 L403.1,196.6 L403.4,194.3 L403.6,191.9 L403.9,189.6 L404.2,187.2 L404.5,184.8 L404.8,182.5 L405.1,180.1 L405.4,177.7 L405.8,175.4 L406.1,173.0 L406.4,170.6 L406.5,169.4 L406.7,168.2 L406.9,167.0 L407.0,165.8 L407.2,164.6 L407.3,163.5 L407.5,162.3 L407.7,161.1 L407.8,159.9 L408.0,158.7 L408.2,157.5 L408.3,156.3 L408.5,155.1 L408.7,153.9 L408.8,152.7 L409.0,151.5 L409.2,150.3 L409.3,149.0 L409.5,147.8 L409.7,146.6 L409.8,145.4 L410.0,144.2 L410.2,143.0 L410.4,141.8 L410.6,140.6 L410.9,139.4 L411.1,138.2 L411.4,137.0 L411.6,135.8 L411.9,134.7 L412.2,133.5 L412.6,132.3 L412.9,131.1 L413.3,130.0 L413.7,128.8 L414.2,127.7 L414.6,126.5 L415.2,125.4 L415.7,124.3 L416.3,123.2 L416.9,122.1 L418.2,120.3 L419.6,119.0 L421.0,118.4 L422.5,118.8 L424.0,119.9 L425.4,121.8 L426.0,122.8 L426.6,124.0 L427.2,125.2 L427.7,126.5 L428.2,127.8 L428.7,129.1 L429.1,130.5 L429.4,131.8 L429.8,133.2 L430.1,134.5 L430.4,135.9 L430.7,137.2 L430.9,138.5 L431.2,139.8 L431.4,141.0 L431.6,142.3 L431.8,143.5 L432.0,144.7 L432.4,147.0 L432.7,149.4 L433.0,151.6 L433.3,153.9 L433.5,156.1 L433.8,158.3 L434.1,160.6 L434.3,162.8 L434.6,165.1 L434.9,167.4 L435.2,169.6 L435.5,171.9 L435.7,174.2 L436.0,176.5 L436.3,178.8 L436.6,181.1 L436.9,183.4 L437.2,185.7 L437.5,188.1 L437.8,190.4 L438.1,192.7 L438.4,195.1 L438.7,197.4 L439.0,199.7 L439.3,202.1 L439.6,204.4 L439.9,206.8 L440.2,209.2 L440.5,211.5 L440.8,213.9 L441.1,216.2 L441.4,218.6 L441.7,221.0 L441.9,223.3 L442.2,225.7 L442.5,228.0 L442.8,230.4 L443.0,232.8 L443.3,235.1 L443.6,237.5 L443.8,239.8 L444.1,242.2 L444.4,244.5 L444.6,246.9 L444.9,249.3 L445.1,251.6 L445.4,254.0 L445.6,256.3 L445.8,258.7 L446.1,261.0 L446.3,263.4 L446.6,265.7 L446.8,268.1 L447.0,270.4 L447.2,272.8 L447.5,275.1 L447.7,277.5 L447.9,279.8 L448.1,282.2 L448.4,284.5 L448.6,286.9 L448.8,289.2 L449.0,291.6 L449.2,293.9 L449.4,296.3 L449.7,298.6 L449.9,301.0 L450.1,303.3 L450.3,305.7 L450.5,308.0 L450.7,310.4 L450.9,312.7 L451.1,315.1 L451.3,317.4 L451.5,319.7 L451.7,322.1 L451.9,324.4 L452.1,326.8 L452.4,329.1 L452.6,331.5 L452.8,333.8 L453.0,336.2 L453.2,338.5 L453.4,340.8 L453.6,343.2 L453.8,345.5 L454.0,347.9 L454.2,350.2 L454.4,352.6 L454.6,354.9 L454.9,357.2 L455.1,359.6 L455.3,361.9 L455.5,364.3 L455.7,366.6 L455.9,369.0 L456.1,371.3 L456.4,373.6 L456.6,376.0 L456.8,378.3 L457.0,380.7 L457.3,383.0 L457.5,385.4 L457.7,387.7 L458.0,390.0 L458.2,392.4 L458.4,394.7 L458.7,397.1 L458.9,399.4 L459.2,401.8 L459.4,404.1 L459.6,406.4 L459.9,408.8 L460.2,411.1 L460.4,413.5 L460.7,415.8 L460.9,418.2 L461.2,420.5 L461.5,422.9 L461.7,425.2 L462.0,427.5 L462.3,429.9 L462.5,432.2 L462.8,434.6 L463.1,436.9 L463.4,439.3 L463.7,441.6 L463.9,444.0 L464.2,446.3 L464.5,448.6 L464.8,451.0 L465.1,453.3 L465.4,455.7 L465.7,458.0 L466.0,460.4 L466.3,462.7 L466.6,465.1 L466.9,467.4 L467.2,469.7 L467.6,472.1 L467.9,474.4 L468.2,476.8 L468.5,479.1 L468.8,481.5 L469.2,483.8 L469.5,486.1 L469.8,488.5 L470.1,490.8 L470.5,493.2 L470.8,495.5 L471.1,497.8 L471.5,500.2 L471.8,502.5 L472.2,504.9 L472.5,507.2 L472.9,509.5 L473.2,511.9 L473.6,514.2 L473.9,516.6 L474.3,518.9 L474.6,521.2 L475.0,523.6 L475.3,525.9 L475.7,528.2 L476.1,530.6 L476.4,532.9 L476.8,535.2 L477.2,537.6 L477.5,539.9 L477.9,542.2 L478.3,544.6 L478.7,546.9 L479.1,549.2 L479.4,551.6 L479.8,553.9 L480.2,556.2 L480.6,558.6 L481.0,560.9 L481.4,563.2 L481.8,565.6 L482.2,567.9 L482.6,570.2 L483.0,572.5 L483.4,574.9 L483.8,577.2 L484.2,579.5 L484.6,581.8 L485.0,584.1 L485.4,586.5 L485.8,588.8 L486.2,591.1 L486.6,593.4 L487.0,595.8 L487.5,598.1 L487.9,600.4 L488.3,602.7 L488.7,605.0 L489.2,607.3 L489.6,609.6 L490.0,612.0 L490.5,614.3 L490.9,616.6 L491.4,618.9 L491.8,621.2 L492.3,623.5 L492.8,625.8 L493.3,628.1 L493.8,630.4 L494.4,632.7 L494.9,634.9 L495.5,637.2 L496.0,639.5 L496.6,641.8 L497.2,644.0 L497.9,646.3 L498.5,648.5 L499.2,650.8 L499.9,653.0 L500.6,655.3 L501.3,657.5 L502.1,659.7 L502.9,661.9 L503.7,664.2 L504.5,666.4 L505.4,668.6 L506.3,670.7 L507.2,672.9 L508.2,675.1 L509.2,677.3 L510.2,679.4 L511.3,681.6 L512.4,683.7 L513.5,685.8 L514.6,687.9 L515.8,689.9 L517.1,692.0 L518.3,694.0 L519.6,696.0 L520.9,698.0 L522.3,699.9 L523.7,701.8 L525.1,703.7 L526.6,705.5 L528.1,707.3 L529.7,709.1 L531.3,710.8 L532.9,712.5 L534.6,714.1 L536.3,715.7 L538.0,717.3 L539.8,718.8 L541.6,720.2 L543.5,721.6 L545.4,722.9 L547.3,724.2 L549.3,725.4 L551.4,726.6 L553.4,727.7 L555.6,728.7 L557.7,729.7 L559.9,730.6 L562.1,731.5 L564.3,732.2 L566.6,733.0 L568.9,733.6 L571.2,734.2 L573.5,734.7 L575.8,735.1 L578.2,735.5 L580.5,735.8 L582.9,736.0 L585.2,736.1 L587.6,736.2 L589.9,736.2 L592.3,736.1 L594.6,735.9 L597.0,735.7 L599.3,735.4 L601.6,735.1 L603.9,734.7 L606.3,734.2 L608.6,733.8 L610.9,733.2 L613.2,732.7 L615.5,732.1 L617.8,731.5 L620.1,730.9 L622.4,730.3 L624.7,729.7 L627.0,729.0 L629.3,728.4 L631.6,727.8 L633.9,727.2 L636.1,726.6 L638.4,726.0 L640.7,725.5 L643.0,724.9 L644.1,724.7" fill="none" stroke="#00FFFF" stroke-width="6" stroke-linecap="round" stroke-linejoin="round"/>
<path d="M227.5,697.4 L229.7,697.0 L232.0,696.7 L234.3,696.4 L236.6,696.1 L238.9,695.8 L241.3,695.5 L242.5,695.4 L243.7,695.2 L245.0,695.1 L246.2,694.9 L247.4,694.8 L248.6,694.7 L249.8,694.5 L251.1,694.4 L252.3,694.2 L253.5,694.1 L254.8,693.9 L256.0,693.7 L257.2,693.6 L258.4,693.4 L259.7,693.2 L260.9,693.0 L262.1,692.8 L263.3,692.6 L264.5,692.3 L265.7,692.1 L266.9,691.9 L268.1,691.6 L269.3,691.3 L270.5,691.0 L271.6,690.7 L272.8,690.4 L273.9,690.0 L276.2,689.3 L278.4,688.5 L280.6,687.6 L282.8,686.6 L284.8,685.5 L286.8,684.4 L288.8,683.1 L290.7,681.8 L292.5,680.3 L294.2,678.8 L296.0,677.2 L297.6,675.5 L299.2,673.8 L300.8,672.0 L302.3,670.2 L303.7,668.3 L304.5,667.3 L305.2,666.3 L305.9,665.3 L306.5,664.3 L307.2,663.3 L307.9,662.3 L308.5,661.3 L309.2,660.3 L309.8,659.2 L310.5,658.2 L311.1,657.1 L311.7,656.1 L312.3,655.0 L312.9,654.0 L313.5,652.9 L314.1,651.9 L314.6,650.8 L315.2,649.7 L315.8,648.7 L316.3,647.6 L316.9,646.5 L317.4,645.4 L318.0,644.4 L318.5,643.3 L319.0,642.2 L319.5,641.1 L320.0,640.0 L321.0,637.9 L322.0,635.7 L323.0,633.5 L323.9,631.3 L324.8,629.0 L325.7,626.8 L326.5,624.6 L327.3,622.4 L328.1,620.1 L328.9,617.9 L329.7,615.6 L330.4,613.3 L331.1,611.1 L331.8,608.8 L332.5,606.5 L333.2,604.2 L333.8,601.9 L334.5,599.6 L335.1,597.3 L335.6,595.0 L336.2,592.7 L336.8,590.4 L337.3,588.1 L337.8,585.8 L338.3,583.4 L338.8,581.1 L339.3,578.8 L339.8,576.4 L340.2,574.1 L340.7,571.8 L341.1,569.4 L341.5,567.1 L341.9,564.7 L342.3,562.3 L342.7,560.0 L343.0,557.6 L343.4,555.3 L343.8,552.9 L344.1,550.5 L344.4,548.2 L344.8,545.8 L345.1,543.4 L345.4,541.0 L345.7,538.7 L346.0,536.3 L346.3,533.9 L346.6,531.5 L346.9,529.1 L347.0,527.9 L347.2,526.8 L347.3,525.6 L347.5,524.4 L347.6,523.2 L347.8,522.0 L347.9,520.8 L348.0,519.6 L348.2,518.4 L348.3,517.2 L348.4,516.0 L348.6,514.8 L348.7,513.6 L348.9,512.4 L349.0,511.2 L349.1,510.1 L349.3,508.9 L349.4,507.7 L349.5,506.5 L349.7,505.3 L349.8,504.1 L349.9,502.9 L350.1,501.7 L350.2,500.5 L350.4,499.3 L350.5,498.1 L350.6,496.9 L350.8,495.7 L350.9,494.5 L351.1,493.4 L351.2,492.2 L351.4,491.0 L351.5,489.8 L351.6,488.6 L351.8,487.4 L351.9,486.2 L352.1,485.0 L352.2,483.8 L352.4,482.6 L352.5,481.4 L352.7,480.2 L353.0,477.9 L353.2,475.5 L353.5,473.1 L353.8,470.7 L354.1,468.3 L354.4,466.0 L354.8,463.6 L355.1,461.2 L355.4,458.8 L355.7,456.4 L356.0,454.1 L356.3,451.7 L356.6,449.3 L356.9,446.9 L357.2,444.6 L357.5,442.2 L357.8,439.8 L358.2,437.4 L358.5,435.1 L358.8,432.7 L359.1,430.3 L359.4,427.9 L359.7,425.6 L360.0,423.2 L360.4,420.8 L360.7,418.4 L361.0,416.1 L361.3,413.7 L361.6,411.3 L361.9,408.9 L362.3,406.6 L362.6,404.2 L362.9,401.8 L363.2,399.4 L363.5,397.1 L363.8,394.7 L364.2,392.3 L364.5,389.9 L364.8,387.6 L365.1,385.2 L365.4,382.8 L365.7,380.4 L366.0,378.1 L366.3,375.7 L366.6,373.3 L366.9,370.9 L367.3,368.6 L367.6,366.2 L367.9,363.8 L368.2,361.4 L368.5,359.1 L368.8,356.7 L369.1,354.3 L369.4,351.9 L369.7,349.6 L369.9,347.2 L370.2,344.8 L370.5,342.4 L370.8,340.1 L371.1,337.7 L371.4,335.3 L371.7,332.9 L371.9,330.6 L372.2,328.2 L372.5,325.8 L372.8,323.4 L373.0,321.1 L373.3,318.7 L373.6,316.3 L373.8,313.9 L374.1,311.5 L374.4,309.2 L374.6,306.8 L374.9,304.4 L375.1,302.0 L375.4,299.6 L375.6,297.3 L375.9,294.9 L376.1,292.5 L376.3,290.1 L376.6,287.7 L376.8,285.3 L377.0,283.0 L377.2,280.6 L377.5,278.2 L377.7,275.8 L377.9,273.4 L378.1,271.0 L378.3,268.7 L378.5,266.3 L378.7,263.9 L378.9,261.5 L379.1,259.1 L379.3,256.7 L379.5,254.3 L379.7,251.9 L379.9,249.5 L380.1,247.2 L380.2,244.8 L380.4,242.4 L380.6,240.0 L380.8,237.6 L381.0,235.2 L381.2,232.8 L381.4,230.4 L381.5,228.0 L381.7,225.6 L381.9,223.2 L382.1,220.9 L382.3,218.5 L382.5,216.1 L382.7,213.7 L382.9,211.3 L383.1,208.9 L383.3,206.5 L383.5,204.1 L383.6,202.9 L383.7,201.7 L383.8,200.5 L383.9,199.3 L384.1,198.1 L384.2,196.9 L384.3,195.7 L384.4,194.6 L384.5,193.4 L384.6,192.2 L384.7,191.0 L384.9,189.8 L385.0,188.6 L385.1,187.4 L385.2,186.2 L385.3,185.0 L385.5,183.8 L385.6,182.6 L385.7,181.4 L385.8,180.2 L386.0,179.0 L386.1,177.8 L386.2,176.6 L386.4,175.4 L386.5,174.2 L386.6,173.1 L386.8,171.9 L386.9,170.7 L387.0,169.5 L387.2,168.3 L387.3,167.1 L387.5,165.9 L387.6,164.7 L387.8,163.5 L387.9,162.3 L388.1,161.1 L388.2,159.9 L388.4,158.7 L388.6,157.6 L388.7,156.4 L388.9,155.2 L389.1,154.0 L389.2,152.8 L389.4,151.6 L389.6,150.4 L389.7,149.2 L389.9,148.0 L390.1,146.8 L390.3,145.7 L390.5,144.5 L390.9,142.1 L391.3,139.7 L391.7,137.4 L392.2,135.1 L392.8,132.8 L393.4,130.5 L394.0,128.3 L394.7,126.1 L395.5,124.0 L396.4,121.8 L397.2,119.6 L397.6,118.4 L398.1,117.2 L398.5,116.0 L398.9,114.7 L399.2,113.4 L399.6,112.0 L399.9,110.5 L400.2,109.0 L400.5,107.4 L400.8,105.9 L401.1,104.4 L401.3,102.9 L401.6,101.4 L401.9,100.1 L402.2,98.8 L402.8,96.6 L403.6,95.1 L404.9,94.4 L406.1,95.1 L407.3,96.6 L408.6,98.7 L409.2,99.9 L409.8,101.2 L410.3,102.5 L410.9,103.9 L411.3,105.3 L411.8,106.6 L412.1,108.0 L412.5,109.3 L412.8,110.7 L413.1,112.0 L413.4,113.3 L413.6,114.6 L413.9,115.9 L414.1,117.1 L414.3,118.4 L414.5,119.6 L414.7,120.9 L414.9,122.1 L415.1,123.3 L415.3,124.5 L415.4,125.7 L415.8,128.0 L416.0,130.4 L416.3,132.7 L416.6,135.0 L416.8,137.2 L417.1,139.5 L417.3,141.8 L417.6,144.0 L417.9,146.3 L418.2,148.6 L418.5,150.9 L418.8,153.2 L419.2,155.5 L419.5,157.9 L419.9,160.2 L420.3,162.6 L420.6,164.9 L421.0,167.3 L421.2,168.5 L421.4,169.7 L421.6,170.8 L421.8,172.0 L422.0,173.2 L422.2,174.4 L422.4,175.6 L422.6,176.8 L422.8,178.0 L423.0,179.2 L423.1,180.4 L423.3,181.6 L423.5,182.7 L423.7,183.9 L423.9,185.1 L424.0,186.3 L424.2,187.5 L424.4,188.7 L424.5,189.9 L424.7,191.1 L424.8,192.3 L425.0,193.5 L425.1,194.7 L425.3,195.9 L425.4,197.1 L425.6,198.2 L425.7,199.4 L425.9,200.6 L426.0,201.8 L426.2,203.0 L426.3,204.2 L426.4,205.4 L426.6,206.6 L426.7,207.8 L426.9,210.2 L427.2,212.6 L427.4,214.9 L427.7,217.3 L427.9,219.7 L428.1,222.1 L428.4,224.5 L428.6,226.9 L428.8,229.3 L429.0,231.7 L429.2,234.0 L429.4,236.4 L429.6,238.8 L429.8,241.2 L430.0,243.6 L430.2,246.0 L430.4,248.4 L430.6,250.7 L430.7,253.1 L430.9,255.5 L431.1,257.9 L431.3,260.3 L431.5,262.7 L431.7,265.1 L431.9,267.5 L432.1,269.8 L432.3,272.2 L432.5,274.6 L432.6,277.0 L432.8,279.4 L433.0,281.8 L433.3,284.2 L433.5,286.5 L433.7,288.9 L433.9,291.3 L434.1,293.7 L434.3,296.1 L434.5,298.5 L434.8,300.8 L435.0,303.2 L435.2,305.6 L435.4,308.0 L435.7,310.4 L435.9,312.8 L436.1,315.1 L436.4,317.5 L436.6,319.9 L436.8,322.3 L437.1,324.7 L437.3,327.1 L437.6,329.4 L437.8,331.8 L438.1,334.2 L438.3,336.6 L438.6,339.0 L438.8,341.4 L439.1,343.7 L439.3,346.1 L439.6,348.5 L439.8,350.9 L440.1,353.3 L440.4,355.6 L440.6,358.0 L440.9,360.4 L441.2,362.8 L441.4,365.2 L441.7,367.6 L442.0,369.9 L442.3,372.3 L442.5,374.7 L442.8,377.1 L443.1,379.5 L443.4,381.8 L443.7,384.2 L443.9,386.6 L444.2,389.0 L444.5,391.4 L444.8,393.7 L445.1,396.1 L445.4,398.5 L445.7,400.9 L446.0,403.3 L446.2,405.6 L446.5,408.0 L446.8,410.4 L447.1,412.8 L447.4,415.1 L447.7,417.5 L448.0,419.9 L448.3,422.3 L448.6,424.7 L448.9,427.0 L449.2,429.4 L449.5,431.8 L449.8,434.2 L450.1,436.6 L450.4,438.9 L450.7,441.3 L451.0,443.7 L451.4,446.1 L451.7,448.4 L452.0,450.8 L452.3,453.2 L452.6,455.6 L452.9,458.0 L453.2,460.3 L453.5,462.7 L453.8,465.1 L454.1,467.5 L454.4,469.8 L454.8,472.2 L455.1,474.6 L455.4,477.0 L455.7,479.3 L456.0,481.7 L456.3,484.1 L456.6,486.5 L456.9,488.8 L457.3,491.2 L457.6,493.6 L457.9,496.0 L458.2,498.4 L458.5,500.7 L458.8,503.1 L459.1,505.5 L459.5,507.9 L459.8,510.2 L460.1,512.6 L460.4,515.0 L460.7,517.4 L461.0,519.7 L461.4,522.1 L461.7,524.5 L462.0,526.9 L462.3,529.2 L462.7,531.6 L463.0,534.0 L463.3,536.3 L463.7,538.7 L464.0,541.1 L464.4,543.5 L464.7,545.8 L465.1,548.2 L465.4,550.6 L465.8,552.9 L466.1,555.3 L466.5,557.7 L466.9,560.0 L467.3,562.4 L467.6,564.7 L468.0,567.1 L468.4,569.5 L468.8,571.8 L469.2,574.2 L469.6,576.5 L470.0,578.9 L470.5,581.2 L470.9,583.6 L471.3,585.9 L471.8,588.3 L472.2,590.6 L472.7,593.0 L473.1,595.3 L473.6,597.7 L474.1,600.0 L474.6,602.4 L475.1,604.7 L475.6,607.0 L476.1,609.4 L476.6,611.7 L477.1,614.0 L477.7,616.4 L478.2,618.7 L478.8,621.0 L479.3,623.4 L479.9,625.7 L480.5,628.0 L481.1,630.3 L481.7,632.6 L482.3,634.9 L483.0,637.3 L483.6,639.6 L484.2,641.9 L484.9,644.2 L485.2,645.3 L485.6,646.5 L485.9,647.6 L486.3,648.8 L486.6,649.9 L487.0,651.1 L487.3,652.2 L487.7,653.4 L488.0,654.5 L488.4,655.7 L488.7,656.8 L489.1,658.0 L489.5,659.1 L489.9,660.3 L490.2,661.4 L490.6,662.6 L491.0,663.7 L491.4,664.8 L491.8,666.0 L492.2,667.1 L492.6,668.3 L493.0,669.4 L493.4,670.5 L493.8,671.6 L494.2,672.8 L494.7,673.9 L495.1,675.0 L496.0,677.2 L497.0,679.4 L497.9,681.6 L498.9,683.8 L500.0,685.9 L501.1,688.0 L502.3,690.0 L503.5,692.1 L504.7,694.1 L506.1,696.0 L507.4,697.9 L508.9,699.8 L510.4,701.6 L512.0,703.4 L513.7,705.1 L515.4,706.7 L516.3,707.5 L517.2,708.3 L518.1,709.1 L519.0,709.9 L520.0,710.6 L520.9,711.4 L521.9,712.1 L522.9,712.8 L523.9,713.5 L524.9,714.2 L525.9,714.8 L526.9,715.5 L528.0,716.1 L529.0,716.7 L530.0,717.4 L531.1,717.9 L532.2,718.5 L533.2,719.1 L534.3,719.6 L535.4,720.1 L536.5,720.7 L537.6,721.1 L538.7,721.6 L539.8,722.1 L540.9,722.5 L543.2,723.4 L545.4,724.2 L547.7,724.9 L550.0,725.6 L552.3,726.2 L554.6,726.8 L557.0,727.3 L559.3,727.7 L561.7,728.1 L564.0,728.4 L566.4,728.7 L568.8,728.9 L571.2,729.1 L573.6,729.2 L576.0,729.2 L578.4,729.2 L580.8,729.2 L583.1,729.1 L585.5,728.9 L587.9,728.7 L590.3,728.5 L592.7,728.2 L595.0,727.8 L597.4,727.4 L599.8,727.0 L602.1,726.5 L604.4,726.0 L606.8,725.5 L607.9,725.2 L609.1,724.9 L610.3,724.6 L611.4,724.2 L612.6,723.9 L613.7,723.6 L614.9,723.2 L616.0,722.9 L617.2,722.5 L618.3,722.2 L619.5,721.8 L620.6,721.4 L621.8,721.0 L622.9,720.7 L624.0,720.3 L625.2,719.9 L626.3,719.5 L627.4,719.0 L628.6,718.6 L629.7,718.2 L630.8,717.8 L631.9,717.4 L634.2,716.5 L636.4,715.6 L638.6,714.7 L640.8,713.8 L643.0,712.9 L644.1,712.4" fill="none" stroke="#FF00FF" stroke-width="6" stroke-linecap="round" stroke-linejoin="round"/>
<path d="M227.5,717.0 L228.8,717.3 L230.1,717.7 L231.4,718.0 L232.7,718.2 L233.9,718.5 L235.2,718.8 L236.4,719.0 L237.7,719.2 L238.9,719.4 L240.1,719.6 L241.3,719.7 L242.6,719.9 L243.8,720.0 L245.0,720.1 L246.2,720.2 L247.4,720.3 L248.6,720.4 L249.8,720.5 L251.0,720.5 L252.2,720.5 L253.4,720.5 L254.7,720.5 L255.9,720.5 L257.1,720.5 L258.3,720.5 L259.6,720.4 L260.8,720.4 L262.1,720.3 L263.3,720.2 L264.6,720.1 L265.9,720.0 L267.2,719.9 L268.5,719.8 L269.8,719.7 L271.1,719.5 L272.4,719.4 L273.7,719.2 L275.0,719.0 L276.4,718.8 L277.7,718.6 L279.0,718.3 L280.3,718.1 L281.6,717.8 L282.9,717.5 L284.2,717.2 L285.4,716.8 L286.7,716.5 L287.9,716.1 L289.1,715.7 L290.4,715.2 L291.5,714.8 L292.7,714.3 L293.8,713.8 L295.0,713.2 L296.1,712.7 L297.1,712.1 L298.2,711.5 L299.2,710.8 L301.1,709.4 L303.0,707.9 L304.7,706.4 L306.4,704.7 L308.0,702.9 L309.4,701.0 L310.8,699.1 L311.5,698.1 L312.2,697.1 L312.8,696.1 L313.4,695.0 L314.0,694.0 L314.6,692.9 L315.2,691.8 L315.7,690.7 L316.3,689.6 L316.8,688.4 L317.3,687.3 L317.8,686.1 L318.3,685.0 L318.8,683.8 L319.2,682.6 L319.7,681.4 L320.1,680.2 L320.6,679.0 L321.0,677.8 L321.4,676.5 L321.8,675.3 L322.2,674.1 L322.6,672.8 L323.0,671.6 L323.4,670.3 L323.7,669.1 L324.1,667.8 L324.5,666.6 L324.8,665.3 L325.2,664.1 L325.5,662.8 L325.9,661.6 L326.2,660.3 L326.5,659.0 L326.9,657.8 L327.2,656.5 L327.5,655.3 L327.9,654.0 L328.2,652.8 L328.5,651.5 L328.8,650.3 L329.2,649.0 L329.5,647.8 L329.8,646.6 L330.1,645.3 L330.4,644.1 L330.7,642.8 L331.0,641.6 L331.3,640.3 L331.6,639.1 L331.9,637.8 L332.2,636.6 L332.5,635.3 L332.7,634.1 L333.0,632.9 L333.3,631.6 L333.6,630.4 L333.9,629.1 L334.1,627.9 L334.4,626.7 L334.7,625.4 L334.9,624.2 L335.2,622.9 L335.5,621.7 L335.7,620.5 L336.0,619.2 L336.2,618.0 L336.5,616.7 L336.7,615.5 L337.0,614.3 L337.2,613.0 L337.5,611.8 L337.7,610.6 L337.9,609.3 L338.2,608.1 L338.4,606.8 L338.6,605.6 L338.9,604.4 L339.1,603.1 L339.3,601.9 L339.6,600.7 L339.8,599.4 L340.0,598.2 L340.2,597.0 L340.5,595.7 L340.7,594.5 L340.9,593.3 L341.1,592.0 L341.3,590.8 L341.5,589.6 L341.7,588.3 L341.9,587.1 L342.1,585.9 L342.4,584.6 L342.6,583.4 L342.8,582.2 L343.0,580.9 L343.2,579.7 L343.4,578.4 L343.6,577.2 L343.7,576.0 L343.9,574.7 L344.1,573.5 L344.3,572.3 L344.5,571.0 L344.7,569.8 L344.9,568.6 L345.1,567.3 L345.3,566.1 L345.5,564.9 L345.6,563.6 L345.8,562.4 L346.0,561.2 L346.2,559.9 L346.4,558.7 L346.5,557.5 L346.7,556.2 L346.9,555.0 L347.1,553.7 L347.2,552.5 L347.4,551.3 L347.6,550.0 L347.8,548.8 L347.9,547.6 L348.1,546.3 L348.3,545.1 L348.5,543.8 L348.6,542.6 L348.8,541.4 L349.0,540.1 L349.1,538.9 L349.3,537.7 L349.5,536.4 L349.6,535.2 L349.8,533.9 L350.0,532.7 L350.1,531.5 L350.3,530.2 L350.5,529.0 L350.6,527.7 L350.8,526.5 L351.0,525.2 L351.1,524.0 L351.3,522.8 L351.4,521.5 L351.6,520.3 L351.8,519.0 L351.9,517.8 L352.1,516.5 L352.2,515.3 L352.4,514.0 L352.6,512.8 L352.7,511.6 L352.9,510.3 L353.0,509.1 L353.2,507.8 L353.3,506.6 L353.5,505.3 L353.7,504.1 L353.8,502.8 L354.0,501.6 L354.1,500.3 L354.3,499.1 L354.4,497.8 L354.6,496.6 L354.7,495.3 L354.9,494.1 L355.0,492.8 L355.2,491.6 L355.3,490.3 L355.5,489.1 L355.6,487.9 L355.8,486.6 L355.9,485.3 L356.1,484.1 L356.2,482.8 L356.4,481.6 L356.5,480.3 L356.7,479.1 L356.8,477.8 L357.0,476.6 L357.1,475.3 L357.3,474.1 L357.4,472.8 L357.6,471.6 L357.7,470.3 L357.8,469.1 L358.0,467.8 L358.1,466.6 L358.3,465.3 L358.4,464.1 L358.6,462.8 L358.7,461.6 L358.8,460.3 L359.0,459.1 L359.1,457.8 L359.3,456.5 L359.4,455.3 L359.5,454.0 L359.7,452.8 L359.8,451.5 L360.0,450.3 L360.1,449.0 L360.2,447.8 L360.4,446.5 L360.5,445.2 L360.7,444.0 L360.8,442.7 L360.9,441.5 L361.1,440.2 L361.2,439.0 L361.3,437.7 L361.5,436.5 L361.6,435.2 L361.7,433.9 L361.9,432.7 L362.0,431.4 L362.1,430.2 L362.3,428.9 L362.4,427.7 L362.5,426.4 L362.7,425.1 L362.8,423.9 L362.9,422.6 L363.1,421.4 L363.2,420.1 L363.3,418.9 L363.5,417.6 L363.6,416.3 L363.7,415.1 L363.9,413.8 L364.0,412.6 L364.1,411.3 L364.2,410.0 L364.4,408.8 L364.5,407.5 L364.6,406.3 L364.8,405.0 L364.9,403.7 L365.0,402.5 L365.2,401.2 L365.3,400.0 L365.4,398.7 L365.5,397.5 L365.7,396.2 L365.8,394.9 L365.9,393.7 L366.0,392.4 L366.2,391.2 L366.3,389.9 L366.4,388.6 L366.5,387.4 L366.7,386.1 L366.8,384.9 L366.9,383.6 L367.1,382.3 L367.2,381.1 L367.3,379.8 L367.4,378.6 L367.6,377.3 L367.7,376.0 L367.8,374.8 L367.9,373.5 L368.0,372.3 L368.2,371.0 L368.3,369.7 L368.4,368.5 L368.5,367.2 L368.7,366.0 L368.8,364.7 L368.9,363.4 L369.0,362.2 L369.2,360.9 L369.3,359.7 L369.4,358.4 L369.5,357.1 L369.6,355.9 L369.8,354.6 L369.9,353.4 L370.0,352.1 L370.1,350.8 L370.3,349.6 L370.4,348.3 L370.5,347.1 L370.6,345.8 L370.7,344.5 L370.9,343.3 L371.0,342.0 L371.1,340.8 L371.2,339.5 L371.3,338.2 L371.5,337.0 L371.6,335.7 L371.7,334.5 L371.8,333.2 L371.9,331.9 L372.1,330.7 L372.2,329.4 L372.3,328.2 L372.4,326.9 L372.5,325.6 L372.7,324.4 L372.8,323.1 L372.9,321.9 L373.0,320.6 L373.1,319.4 L373.3,318.1 L373.4,316.8 L373.5,315.6 L373.6,314.3 L373.7,313.1 L373.9,311.8 L374.0,310.5 L374.1,309.3 L374.2,308.0 L374.3,306.8 L374.5,305.5 L374.6,304.3 L374.7,303.0 L374.8,301.7 L374.9,300.5 L375.1,299.2 L375.2,298.0 L375.3,296.7 L375.4,295.4 L375.5,294.2 L375.7,292.9 L375.8,291.7 L375.9,290.4 L376.0,289.2 L376.1,287.9 L376.2,286.7 L376.4,285.4 L376.5,284.1 L376.6,282.9 L376.7,281.6 L376.8,280.4 L377.0,279.1 L377.1,277.9 L377.2,276.6 L377.3,275.3 L377.4,274.1 L377.6,272.8 L377.7,271.6 L377.8,270.3 L377.9,269.1 L378.0,267.8 L378.1,266.6 L378.3,265.3 L378.4,264.0 L378.5,262.8 L378.6,261.5 L378.7,260.3 L378.9,259.0 L379.0,257.8 L379.1,256.5 L379.2,255.3 L379.3,254.0 L379.4,252.7 L379.6,251.5 L379.7,250.2 L379.8,249.0 L379.9,247.7 L380.0,246.5 L380.2,245.2 L380.3,244.0 L380.4,242.7 L380.5,241.5 L380.6,240.2 L380.7,239.0 L380.9,237.7 L381.0,236.4 L381.1,235.2 L381.2,233.9 L381.3,232.7 L381.5,231.4 L381.6,230.2 L381.7,228.9 L381.8,227.7 L381.9,226.4 L382.0,225.2 L382.2,223.9 L382.3,222.7 L382.4,221.4 L382.5,220.2 L382.6,218.9 L382.8,217.7 L382.9,216.4 L383.0,215.2 L383.1,213.9 L383.2,212.7 L383.3,211.4 L383.5,210.1 L383.6,208.9 L383.7,207.6 L383.8,206.4 L383.9,205.1 L384.1,203.9 L384.2,202.6 L384.3,201.4 L384.4,200.1 L384.5,198.9 L384.6,197.6 L384.8,196.4 L384.9,195.1 L385.0,193.9 L385.1,192.6 L385.2,191.4 L385.4,190.1 L385.5,188.9 L385.6,187.6 L385.7,186.4 L385.8,185.1 L386.0,183.9 L386.1,182.6 L386.2,181.4 L386.3,180.1 L386.4,178.9 L386.5,177.7 L386.7,176.4 L386.8,175.2 L386.9,173.9 L387.0,172.7 L387.1,171.4 L387.3,170.2 L387.4,168.9 L387.5,167.7 L387.6,166.4 L387.7,165.2 L387.9,163.9 L388.0,162.7 L388.1,161.4 L388.2,160.2 L388.3,158.9 L388.5,157.7 L388.6,156.4 L388.7,155.2 L388.8,153.9 L388.9,152.7 L389.1,151.5 L389.2,150.2 L389.3,149.0 L389.4,147.7 L389.5,146.5 L389.7,145.2 L389.8,144.0 L389.9,142.7 L390.0,141.5 L390.2,140.2 L390.3,139.0 L390.4,137.7 L390.6,136.5 L390.7,135.2 L390.9,134.0 L391.0,132.7 L391.2,131.5 L391.3,130.2 L391.5,129.0 L391.7,127.7 L391.8,126.5 L392.0,125.2 L392.2,123.9 L392.4,122.7 L392.6,121.4 L392.8,120.1 L393.1,118.9 L393.3,117.6 L393.5,116.3 L393.8,115.1 L394.1,113.8 L394.3,112.5 L394.6,111.2 L394.9,109.9 L395.2,108.6 L395.5,107.4 L395.8,106.1 L396.2,104.8 L396.5,103.5 L396.9,102.2 L397.2,100.9 L397.6,99.6 L398.0,98.3 L398.4,96.9 L398.9,95.6 L399.3,94.3 L399.8,93.0 L400.3,91.6 L400.7,90.3 L401.3,89.0 L401.8,87.9 L402.9,86.0 L404.2,85.0 L405.6,85.3 L407.0,86.7 L407.8,87.7 L408.4,88.9 L409.1,90.1 L409.7,91.4 L410.3,92.7 L410.8,94.0 L411.2,95.3 L411.7,96.6 L412.0,97.9 L412.4,99.2 L412.7,100.5 L413.0,101.8 L413.3,103.1 L413.5,104.5 L413.8,105.8 L414.0,107.1 L414.3,108.4 L414.5,109.7 L414.7,110.9 L414.9,112.2 L415.2,113.5 L415.4,114.8 L415.6,116.1 L415.8,117.3 L415.9,118.6 L416.1,119.9 L416.3,121.1 L416.5,122.4 L416.6,123.7 L416.8,124.9 L417.0,126.2 L417.1,127.4 L417.3,128.7 L417.4,129.9 L417.6,131.1 L417.7,132.4 L417.9,133.6 L418.0,134.9 L418.2,136.1 L418.3,137.4 L418.4,138.6 L418.6,139.8 L418.7,141.1 L418.8,142.3 L419.0,143.5 L419.1,144.8 L419.2,146.0 L419.3,147.3 L419.5,148.5 L419.6,149.7 L419.7,151.0 L419.9,152.2 L420.0,153.4 L420.1,154.7 L420.3,155.9 L420.4,157.2 L420.5,158.4 L420.7,159.7 L420.8,160.9 L420.9,162.1 L421.1,163.4 L421.2,164.6 L421.3,165.9 L421.5,167.1 L421.6,168.4 L421.7,169.6 L421.9,170.9 L422.0,172.1 L422.1,173.4 L422.3,174.6 L422.4,175.9 L422.5,177.1 L422.7,178.4 L422.8,179.6 L422.9,180.8 L423.1,182.1 L423.2,183.4 L423.3,184.6 L423.5,185.9 L423.6,187.1 L423.7,188.4 L423.9,189.6 L424.0,190.9 L424.1,192.1 L424.3,193.4 L424.4,194.6 L424.5,195.9 L424.7,197.1 L424.8,198.4 L424.9,199.6 L425.1,200.9 L425.2,202.1 L425.3,203.4 L425.5,204.6 L425.6,205.9 L425.7,207.2 L425.9,208.4 L426.0,209.7 L426.1,210.9 L426.3,212.2 L426.4,213.4 L426.5,214.7 L426.7,215.9 L426.8,217.2 L426.9,218.5 L427.1,219.7 L427.2,221.0 L427.3,222.2 L427.4,223.5 L427.6,224.7 L427.7,226.0 L427.8,227.3 L428.0,228.5 L428.1,229.8 L428.2,231.0 L428.3,232.3 L428.5,233.5 L428.6,234.8 L428.7,236.0 L428.8,237.3 L429.0,238.6 L429.1,239.8 L429.2,241.1 L429.3,242.3 L429.5,243.6 L429.6,244.8 L429.7,246.1 L429.8,247.4 L429.9,248.6 L430.1,249.9 L430.2,251.1 L430.3,252.4 L430.4,253.6 L430.6,254.9 L430.7,256.2 L430.8,257.4 L430.9,258.7 L431.0,259.9 L431.2,261.2 L431.3,262.4 L431.4,263.7 L431.5,265.0 L431.6,266.2 L431.8,267.5 L431.9,268.7 L432.0,270.0 L432.1,271.2 L432.2,272.5 L432.3,273.8 L432.5,275.0 L432.6,276.3 L432.7,277.5 L432.8,278.8 L432.9,280.0 L433.0,281.3 L433.2,282.6 L433.3,283.8 L433.4,285.1 L433.5,286.3 L433.6,287.6 L433.7,288.8 L433.9,290.1 L434.0,291.4 L434.1,292.6 L434.2,293.9 L434.3,295.1 L434.4,296.4 L434.5,297.6 L434.7,298.9 L434.8,300.2 L434.9,301.4 L435.0,302.7 L435.1,303.9 L435.2,305.2 L435.3,306.4 L435.5,307.7 L435.6,309.0 L435.7,310.2 L435.8,311.5 L435.9,312.7 L436.0,314.0 L436.1,315.2 L436.3,316.5 L436.4,317.8 L436.5,319.0 L436.6,320.3 L436.7,321.5 L436.8,322.8 L436.9,324.0 L437.0,325.3 L437.2,326.6 L437.3,327.8 L437.4,329.1 L437.5,330.3 L437.6,331.6 L437.7,332.8 L437.8,334.1 L438.0,335.4 L438.1,336.6 L438.2,337.9 L438.3,339.1 L438.4,340.4 L438.5,341.6 L438.6,342.9 L438.7,344.2 L438.9,345.4 L439.0,346.7 L439.1,347.9 L439.2,349.2 L439.3,350.4 L439.4,351.7 L439.5,353.0 L439.6,354.2 L439.8,355.5 L439.9,356.7 L440.0,358.0 L440.1,359.2 L440.2,360.5 L440.3,361.8 L440.4,363.0 L440.6,364.3 L440.7,365.5 L440.8,366.8 L440.9,368.0 L441.0,369.3 L441.1,370.6 L441.2,371.8 L441.4,373.1 L441.5,374.3 L441.6,375.6 L441.7,376.8 L441.8,378.1 L441.9,379.3 L442.1,380.6 L442.2,381.9 L442.3,383.1 L442.4,384.4 L442.5,385.6 L442.6,386.9 L442.8,388.1 L442.9,389.4 L443.0,390.7 L443.1,391.9 L443.2,393.2 L443.3,394.4 L443.5,395.7 L443.6,396.9 L443.7,398.2 L443.8,399.4 L443.9,400.7 L444.0,402.0 L444.2,403.2 L444.3,404.5 L444.4,405.7 L444.5,407.0 L444.6,408.2 L444.8,409.5 L444.9,410.7 L445.0,412.0 L445.1,413.3 L445.3,414.5 L445.4,415.8 L445.5,417.0 L445.6,418.3 L445.7,419.5 L445.9,420.8 L446.0,422.0 L446.1,423.3 L446.2,424.6 L446.4,425.8 L446.5,427.1 L446.6,428.3 L446.7,429.6 L446.9,430.8 L447.0,432.1 L447.1,433.3 L447.2,434.6 L447.4,435.8 L447.5,437.1 L447.6,438.4 L447.7,439.6 L447.9,440.9 L448.0,442.1 L448.1,443.4 L448.3,444.6 L448.4,445.9 L448.5,447.1 L448.7,448.4 L448.8,449.6 L448.9,450.9 L449.0,452.1 L449.2,453.4 L449.3,454.7 L449.4,455.9 L449.6,457.2 L449.7,458.4 L449.8,459.7 L450.0,460.9 L450.1,462.2 L450.2,463.4 L450.4,464.7 L450.5,465.9 L450.7,467.2 L450.8,468.4 L450.9,469.7 L451.1,470.9 L451.2,472.2 L451.3,473.5 L451.5,474.7 L451.6,476.0 L451.8,477.2 L451.9,478.5 L452.0,479.7 L452.2,481.0 L452.3,482.2 L452.5,483.5 L452.6,484.7 L452.8,486.0 L452.9,487.2 L453.0,488.5 L453.2,489.7 L453.3,491.0 L453.5,492.2 L453.6,493.5 L453.8,494.7 L453.9,496.0 L454.1,497.2 L454.2,498.5 L454.4,499.7 L454.5,501.0 L454.7,502.3 L454.8,503.5 L455.0,504.8 L455.1,506.0 L455.3,507.3 L455.4,508.5 L455.6,509.8 L455.7,511.0 L455.9,512.3 L456.1,513.5 L456.2,514.8 L456.4,516.0 L456.5,517.3 L456.7,518.5 L456.8,519.8 L457.0,521.0 L457.2,522.3 L457.3,523.5 L457.5,524.8 L457.6,526.0 L457.8,527.3 L458.0,528.5 L458.1,529.8 L458.3,531.0 L458.5,532.3 L458.6,533.5 L458.8,534.8 L459.0,536.0 L459.1,537.3 L459.3,538.5 L459.5,539.8 L459.6,541.0 L459.8,542.3 L460.0,543.5 L460.2,544.7 L460.3,546.0 L460.5,547.2 L460.7,548.5 L460.9,549.7 L461.0,551.0 L461.2,552.2 L461.4,553.5 L461.6,554.7 L461.7,556.0 L461.9,557.2 L462.1,558.5 L462.3,559.7 L462.5,561.0 L462.6,562.2 L462.8,563.5 L463.0,564.7 L463.2,566.0 L463.4,567.2 L463.6,568.5 L463.8,569.7 L463.9,570.9 L464.1,572.2 L464.3,573.4 L464.5,574.7 L464.7,575.9 L464.9,577.2 L465.1,578.4 L465.3,579.7 L465.5,580.9 L465.7,582.2 L465.9,583.4 L466.1,584.7 L466.3,585.9 L466.5,587.1 L466.7,588.4 L466.9,589.6 L467.1,590.9 L467.3,592.1 L467.5,593.4 L467.7,594.6 L467.9,595.9 L468.1,597.1 L468.3,598.3 L468.5,599.6 L468.7,600.8 L468.9,602.1 L469.1,603.3 L469.3,604.6 L469.5,605.8 L469.8,607.1 L470.0,608.3 L470.2,609.5 L470.4,610.8 L470.6,612.0 L470.9,613.3 L471.1,614.5 L471.3,615.7 L471.5,617.0 L471.8,618.2 L472.0,619.5 L472.2,620.7 L472.5,621.9 L472.7,623.2 L473.0,624.4 L473.2,625.6 L473.4,626.9 L473.7,628.1 L474.0,629.3 L474.2,630.6 L474.5,631.8 L474.7,633.0 L475.0,634.3 L475.3,635.5 L475.6,636.7 L475.8,638.0 L476.1,639.2 L476.4,640.4 L476.7,641.6 L477.0,642.8 L477.3,644.1 L477.6,645.3 L477.9,646.5 L478.2,647.7 L478.6,648.9 L478.9,650.2 L479.2,651.4 L479.6,652.6 L479.9,653.8 L480.2,655.0 L480.6,656.2 L481.0,657.4 L481.3,658.6 L481.7,659.8 L482.1,661.0 L482.4,662.2 L482.8,663.4 L483.2,664.6 L483.6,665.8 L484.0,667.0 L484.4,668.2 L484.8,669.4 L485.2,670.6 L485.7,671.7 L486.1,672.9 L486.5,674.1 L487.0,675.3 L487.4,676.4 L487.9,677.6 L488.4,678.8 L488.8,680.0 L489.3,681.1 L489.8,682.3 L490.3,683.4 L490.8,684.6 L491.3,685.7 L491.8,686.9 L492.3,688.0 L492.8,689.2 L493.4,690.3 L493.9,691.5 L494.4,692.6 L495.0,693.7 L495.6,694.9 L496.1,696.0 L496.7,697.1 L497.3,698.2 L497.9,699.4 L498.5,700.5 L499.1,701.6 L499.7,702.7 L500.3,703.8 L500.9,704.9 L501.6,706.0 L502.2,707.0 L502.9,708.1 L503.5,709.2 L504.2,710.2 L504.9,711.3 L505.5,712.3 L506.2,713.4 L507.0,714.4 L507.7,715.4 L508.4,716.4 L509.1,717.4 L509.9,718.3 L510.7,719.3 L511.5,720.2 L512.3,721.1 L513.1,722.1 L513.9,722.9 L514.8,723.8 L515.6,724.7 L516.5,725.5 L517.4,726.3 L518.4,727.1 L519.3,727.9 L520.3,728.7 L521.3,729.4 L522.3,730.1 L523.3,730.8 L524.3,731.5 L525.4,732.2 L526.4,732.8 L527.5,733.4 L528.6,734.0 L529.7,734.6 L530.8,735.1 L531.9,735.7 L533.1,736.2 L534.2,736.7 L535.3,737.2 L536.5,737.6 L537.7,738.1 L538.8,738.5 L540.0,738.9 L541.2,739.3 L542.4,739.7 L543.6,740.0 L544.8,740.4 L546.0,740.7 L547.2,741.0 L548.4,741.2 L549.6,741.5 L550.8,741.7 L552.0,742.0 L553.2,742.2 L554.5,742.4 L555.7,742.5 L556.9,742.7 L558.2,742.8 L559.4,742.9 L560.6,743.0 L561.9,743.1 L563.1,743.2 L564.3,743.3 L565.6,743.3 L566.8,743.3 L568.1,743.3 L569.3,743.3 L570.6,743.3 L571.8,743.2 L573.1,743.2 L574.3,743.1 L575.6,743.0 L576.8,742.9 L578.1,742.8 L579.3,742.6 L580.6,742.5 L581.8,742.3 L583.1,742.1 L584.3,741.9 L585.6,741.7 L586.8,741.5 L588.0,741.3 L589.3,741.0 L590.5,740.7 L591.8,740.4 L593.0,740.2 L594.2,739.8 L595.5,739.5 L596.7,739.2 L597.9,738.8 L599.1,738.5 L600.3,738.1 L601.5,737.7 L602.8,737.3 L604.0,736.9 L605.2,736.4 L606.4,736.0 L607.5,735.5 L608.7,735.1 L609.9,734.6 L611.1,734.1 L612.3,733.6 L613.4,733.1 L614.6,732.6 L615.7,732.0 L616.9,731.5 L618.0,730.9 L619.2,730.3 L620.3,729.7 L621.4,729.1 L622.5,728.5 L623.6,727.9 L624.7,727.3 L625.8,726.6 L626.9,726.0 L628.0,725.3 L629.1,724.7 L630.1,724.0 L631.2,723.3 L632.2,722.6 L633.3,721.9 L634.3,721.1 L635.3,720.4 L636.3,719.7 L637.4,718.9 L638.3,718.2 L639.3,717.4 L640.3,716.6 L641.3,715.8 L642.2,715.0 L643.2,714.2 L644.1,713.4 L644.1,713.4" fill="none" stroke="#70AD47" stroke-width="6" stroke-linecap="round" stroke-linejoin="round"/>
<g font-family="'Liberation Serif', 'Times New Roman', Times, serif" fill="#000">
<path d="M477,29.5 H550" stroke="#0000FF" stroke-width="6" stroke-linecap="round"/>
<text transform="translate(558.50,42.40) scale(1.0,1.046)" font-size="39">0.000000001 (g/mL)</text>
<path d="M477,89.5 H550" stroke="#00FF00" stroke-width="6" stroke-linecap="round"/>
<text transform="translate(558.50,102.40) scale(1.0,1.046)" font-size="39">0.0000000001 (g/mL)</text>
<path d="M477,149.5 H550" stroke="#FF0000" stroke-width="6" stroke-linecap="round"/>
<text transform="translate(558.50,162.40) scale(1.0,1.046)" font-size="39">0.00000000001 (g/mL)</text>
<path d="M477,209.5 H550" stroke="#00FFFF" stroke-width="6" stroke-linecap="round"/>
<text transform="translate(558.50,222.40) scale(1.0,1.046)" font-size="39">0.000000000001 (g/mL)</text>
<path d="M477,269.5 H550" stroke="#FF00FF" stroke-width="6" stroke-linecap="round"/>
<text transform="translate(558.50,282.40) scale(1.0,1.046)" font-size="39">0.0000000000001 (g/mL)</text>
<path d="M477,329.5 H550" stroke="#70AD47" stroke-width="6" stroke-linecap="round"/>
<text transform="translate(558.50,342.40) scale(1.0,1.046)" font-size="39">0.00000000000001 (g/mL)</text>
</g>
<path d="M1211.4,82.5 V823 H1956" stroke="#000" stroke-width="3" fill="none"/>
<g font-family="'Liberation Serif', 'Times New Roman', Times, serif" fill="#000">
<text transform="translate(1177.50,835.80) scale(1.0,1.065)" font-size="38.8" text-anchor="end">2</text>
<text transform="translate(1177.50,730.00) scale(1.0,1.065)" font-size="38.8" text-anchor="end">2.2</text>
<text transform="translate(1177.50,624.20) scale(1.0,1.065)" font-size="38.8" text-anchor="end">2.4</text>
<text transform="translate(1177.50,518.40) scale(1.0,1.065)" font-size="38.8" text-anchor="end">2.6</text>
<text transform="translate(1177.50,412.60) scale(1.0,1.065)" font-size="38.8" text-anchor="end">2.8</text>
<text transform="translate(1177.50,306.80) scale(1.0,1.065)" font-size="38.8" text-anchor="end">3</text>
<text transform="translate(1177.50,201.00) scale(1.0,1.065)" font-size="38.8" text-anchor="end">3.2</text>
<text transform="translate(1177.50,95.20) scale(1.0,1.065)" font-size="38.8" text-anchor="end">3.4</text>
<text transform="translate(1211.40,875.00) scale(1.0,1.03)" font-size="35" text-anchor="middle">-7</text>
<text transform="translate(1397.55,875.00) scale(1.0,1.03)" font-size="35" text-anchor="middle">-9</text>
<text transform="translate(1583.70,875.00) scale(1.0,1.03)" font-size="35" text-anchor="middle">-11</text>
<text transform="translate(1769.85,875.00) scale(1.0,1.03)" font-size="35" text-anchor="middle">-13</text>
<text transform="translate(1956.00,875.00) scale(1.0,1.03)" font-size="35" text-anchor="middle">-15</text>
<text transform="translate(1575.50,944.30)" font-size="39.2" text-anchor="middle">Log concentration Cis-p-Tau (g/mL)</text>
<text transform="translate(1089.00,411.50) rotate(-90)" font-size="39" text-anchor="middle">Average current (µA)</text>
<text transform="translate(1258.00,147.50)" font-size="46.5" font-weight="bold">B</text>
</g>
<g stroke="#595959" stroke-width="3" fill="none">
<path d="M1397.6,575.7 V601.3 M1388.6,575.7 H1406.6 M1388.6,601.3 H1406.6"/>
<path d="M1583.7,386.0 V416.4 M1574.7,386.0 H1592.7 M1574.7,416.4 H1592.7"/>
<path d="M1676.8,302.1 V333.1 M1667.8,302.1 H1685.8 M1667.8,333.1 H1685.8"/>
<path d="M1769.9,207.0 V265.4 M1760.9,207.0 H1778.9 M1760.9,265.4 H1778.9"/>
<path d="M1862.9,186.8 V199.4 M1853.9,186.8 H1871.9 M1853.9,199.4 H1871.9"/>
</g>
<g fill="#FF0000">
<circle cx="1397.6" cy="588.5" r="9.7"/>
<circle cx="1490.6" cy="473.6" r="9.7"/>
<circle cx="1583.7" cy="401.2" r="9.7"/>
<circle cx="1676.8" cy="317.6" r="9.7"/>
<circle cx="1769.9" cy="236.2" r="9.7"/>
<circle cx="1862.9" cy="193.1" r="9.7"/>
</g>
<g fill="#0000FF">
<circle cx="1399.90" cy="564.80" r="2.9"/>
<circle cx="1408.80" cy="557.21" r="2.9"/>
<circle cx="1417.70" cy="549.62" r="2.9"/>
<circle cx="1426.60" cy="542.03" r="2.9"/>
<circle cx="1435.50" cy="534.45" r="2.9"/>
<circle cx="1444.40" cy="526.86" r="2.9"/>
<circle cx="1453.30" cy="519.27" r="2.9"/>
<circle cx="1462.20" cy="511.68" r="2.9"/>
<circle cx="1471.10" cy="504.09" r="2.9"/>
<circle cx="1480.00" cy="496.50" r="2.9"/>
<circle cx="1488.90" cy="488.92" r="2.9"/>
<circle cx="1497.80" cy="481.33" r="2.9"/>
<circle cx="1506.70" cy="473.74" r="2.9"/>
<circle cx="1515.60" cy="466.15" r="2.9"/>
<circle cx="1524.50" cy="458.56" r="2.9"/>
<circle cx="1533.40" cy="450.97" r="2.9"/>
<circle cx="1542.30" cy="443.38" r="2.9"/>
<circle cx="1551.20" cy="435.80" r="2.9"/>
<circle cx="1560.10" cy="428.21" r="2.9"/>
<circle cx="1569.00" cy="420.62" r="2.9"/>
<circle cx="1577.90" cy="413.03" r="2.9"/>
<circle cx="1586.80" cy="405.44" r="2.9"/>
<circle cx="1595.70" cy="397.85" r="2.9"/>
<circle cx="1604.60" cy="390.27" r="2.9"/>
<circle cx="1613.50" cy="382.68" r="2.9"/>
<circle cx="1622.40" cy="375.09" r="2.9"/>
<circle cx="1631.30" cy="367.50" r="2.9"/>
<circle cx="1640.20" cy="359.91" r="2.9"/>
<circle cx="1649.10" cy="352.32" r="2.9"/>
<circle cx="1658.00" cy="344.73" r="2.9"/>
<circle cx="1666.90" cy="337.15" r="2.9"/>
<circle cx="1675.80" cy="329.56" r="2.9"/>
<circle cx="1684.70" cy="321.97" r="2.9"/>
<circle cx="1693.60" cy="314.38" r="2.9"/>
<circle cx="1702.50" cy="306.79" r="2.9"/>
<circle cx="1711.40" cy="299.20" r="2.9"/>
<circle cx="1720.30" cy="291.62" r="2.9"/>
<circle cx="1729.20" cy="284.03" r="2.9"/>
<circle cx="1738.10" cy="276.44" r="2.9"/>
<circle cx="1747.00" cy="268.85" r="2.9"/>
<circle cx="1755.90" cy="261.26" r="2.9"/>
<circle cx="1764.80" cy="253.67" r="2.9"/>
<circle cx="1773.70" cy="246.08" r="2.9"/>
<circle cx="1782.60" cy="238.50" r="2.9"/>
<circle cx="1791.50" cy="230.91" r="2.9"/>
<circle cx="1800.40" cy="223.32" r="2.9"/>
<circle cx="1809.30" cy="215.73" r="2.9"/>
<circle cx="1818.20" cy="208.14" r="2.9"/>
<circle cx="1827.10" cy="200.55" r="2.9"/>
<circle cx="1836.00" cy="192.97" r="2.9"/>
<circle cx="1844.90" cy="185.38" r="2.9"/>
<circle cx="1853.80" cy="177.79" r="2.9"/>
<circle cx="1862.70" cy="170.20" r="2.9"/>
</g>
<g font-family="'Liberation Serif', 'Times New Roman', Times, serif" fill="#000">
<text transform="translate(1844.50,477.50)" font-size="35" text-anchor="middle">y = -0.15x + 1.135</text>
<text transform="translate(1845.00,517.70)" font-size="35" text-anchor="middle">R² = 0.9862</text>
</g>
</svg>
</body></html>
